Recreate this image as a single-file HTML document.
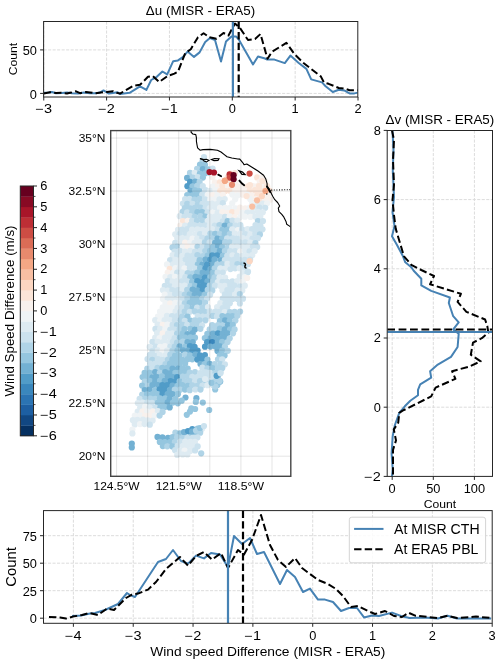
<!DOCTYPE html>
<html><head><meta charset="utf-8"><style>
html,body{margin:0;padding:0;background:#fff;width:500px;height:664px;overflow:hidden}
svg{display:block;will-change:transform}
text{font-family:"Liberation Sans",sans-serif}
</style></head><body>
<svg width="500" height="664" viewBox="0 0 500 664">
<rect width="500" height="664" fill="#fff"/>
<g id="top">
<line x1="43.75" y1="21.50" x2="43.75" y2="97.00" stroke="#dcdcdc" stroke-width="1" stroke-dasharray="3.1 1.4"/>
<line x1="106.60" y1="21.50" x2="106.60" y2="97.00" stroke="#dcdcdc" stroke-width="1" stroke-dasharray="3.1 1.4"/>
<line x1="169.45" y1="21.50" x2="169.45" y2="97.00" stroke="#dcdcdc" stroke-width="1" stroke-dasharray="3.1 1.4"/>
<line x1="232.30" y1="21.50" x2="232.30" y2="97.00" stroke="#dcdcdc" stroke-width="1" stroke-dasharray="3.1 1.4"/>
<line x1="295.15" y1="21.50" x2="295.15" y2="97.00" stroke="#dcdcdc" stroke-width="1" stroke-dasharray="3.1 1.4"/>
<line x1="43.60" y1="93.40" x2="357.80" y2="93.40" stroke="#dcdcdc" stroke-width="1" stroke-dasharray="3.1 1.4"/>
<line x1="43.60" y1="49.90" x2="357.80" y2="49.90" stroke="#dcdcdc" stroke-width="1" stroke-dasharray="3.1 1.4"/>
<clipPath id="ctop"><rect x="43.6" y="21.5" width="314.2" height="75.5"/></clipPath>
<g clip-path="url(#ctop)">
<polyline points="43.7,92.8 49.0,92.6 52.0,92.0 56.0,93.3 62.0,93.1 67.0,92.4 72.0,93.3 78.0,93.6 84.0,92.6 90.0,93.2 96.0,93.3 100.0,92.5 103.5,90.4 108.8,93.6 113.0,93.0 117.6,92.3 120.0,93.9 129.6,92.8 140.0,86.4 146.4,89.9 151.2,80.0 156.8,76.8 162.4,71.5 167.2,74.4 173.2,61.2 178.0,60.4 182.8,57.2 187.6,51.6 194.0,56.9 199.6,52.4 205.2,42.0 210.0,38.0 215.0,40.0 221.0,61.5 226.0,41.5 231.5,36.5 236.0,36.5 238.5,39.0 253.0,64.5 258.0,56.5 265.0,58.5 267.2,59.6 274.4,59.6 284.8,63.1 290.4,55.6 298.4,62.8 306.4,68.9 311.2,79.4 322.0,82.4 325.6,86.2 332.8,92.0 338.8,89.8 344.2,90.4 349.6,93.4 354.4,93.4 357.8,92.6" fill="none" stroke="#4682b4" stroke-width="2" stroke-linejoin="round"/>
<polyline points="43.7,93.4 50.0,92.2 56.0,93.0 61.0,92.8 67.0,93.4 71.0,92.6 76.0,91.3 80.0,93.2 86.0,92.0 90.0,92.4 95.0,93.3 101.0,92.5 107.0,92.0 113.0,91.2 117.0,92.8 120.0,93.6 133.6,85.6 140.0,84.8 148.0,76.8 152.8,76.0 159.2,82.0 167.2,76.3 174.4,73.6 178.0,71.6 185.2,53.2 190.8,49.2 198.0,37.2 203.6,33.2 209.2,37.2 216.4,38.8 223.5,33.0 228.5,35.5 232.5,28.0 235.0,23.5 240.0,28.0 248.0,40.0 255.0,39.0 260.5,34.0 267.5,58.8 272.0,51.8 286.4,42.8 294.4,54.0 303.2,62.8 320.8,76.4 324.0,82.5 328.6,83.8 338.8,88.0 344.8,88.6 349.6,90.2 357.8,90.2" fill="none" stroke="#000" stroke-width="2" stroke-dasharray="7.4 3.2" stroke-linejoin="round"/>
<line x1="232.90" y1="21.50" x2="232.90" y2="97.00" stroke="#4682b4" stroke-width="2.2"/>
<line x1="238.70" y1="21.50" x2="238.70" y2="97.00" stroke="#000" stroke-width="2.2" stroke-dasharray="7.4 3.2"/>
</g>
<rect x="43.6" y="21.5" width="314.2" height="75.5" fill="none" stroke="#262626" stroke-width="1"/>
<line x1="43.75" y1="97.00" x2="43.75" y2="100.50" stroke="#262626" stroke-width="1"/>
<text x="35.49" y="113.26" font-size="11.87" textLength="16.51" lengthAdjust="spacingAndGlyphs" fill="#000">−3</text>
<line x1="106.60" y1="97.00" x2="106.60" y2="100.50" stroke="#262626" stroke-width="1"/>
<text x="98.34" y="113.26" font-size="11.87" textLength="16.51" lengthAdjust="spacingAndGlyphs" fill="#000">−2</text>
<line x1="169.45" y1="97.00" x2="169.45" y2="100.50" stroke="#262626" stroke-width="1"/>
<text x="161.19" y="113.26" font-size="11.87" textLength="16.51" lengthAdjust="spacingAndGlyphs" fill="#000">−1</text>
<line x1="232.30" y1="97.00" x2="232.30" y2="100.50" stroke="#262626" stroke-width="1"/>
<text x="228.74" y="113.26" font-size="11.87" textLength="7.13" lengthAdjust="spacingAndGlyphs" fill="#000">0</text>
<line x1="295.15" y1="97.00" x2="295.15" y2="100.50" stroke="#262626" stroke-width="1"/>
<text x="291.59" y="113.26" font-size="11.87" textLength="7.13" lengthAdjust="spacingAndGlyphs" fill="#000">1</text>
<line x1="358.00" y1="97.00" x2="358.00" y2="100.50" stroke="#262626" stroke-width="1"/>
<text x="354.44" y="113.26" font-size="11.87" textLength="7.13" lengthAdjust="spacingAndGlyphs" fill="#000">2</text>
<line x1="40.10" y1="93.40" x2="43.60" y2="93.40" stroke="#262626" stroke-width="1"/>
<text x="29.87" y="98.68" font-size="11.87" textLength="7.13" lengthAdjust="spacingAndGlyphs" fill="#000">0</text>
<line x1="40.10" y1="49.90" x2="43.60" y2="49.90" stroke="#262626" stroke-width="1"/>
<text x="22.75" y="55.18" font-size="11.87" textLength="14.25" lengthAdjust="spacingAndGlyphs" fill="#000">50</text>
<text x="145.85" y="15.00" font-size="13.62" textLength="109.31" lengthAdjust="spacingAndGlyphs" fill="#000">Δu (MISR - ERA5)</text>
<text x="0.31" y="59.00" font-size="11.55" textLength="32.37" lengthAdjust="spacingAndGlyphs" fill="#000" transform="rotate(-90 16.50 59.00)">Count</text>
</g>
<g id="right">
<line x1="392.20" y1="130.50" x2="392.20" y2="476.40" stroke="#dcdcdc" stroke-width="1" stroke-dasharray="3.1 1.4"/>
<line x1="433.30" y1="130.50" x2="433.30" y2="476.40" stroke="#dcdcdc" stroke-width="1" stroke-dasharray="3.1 1.4"/>
<line x1="474.40" y1="130.50" x2="474.40" y2="476.40" stroke="#dcdcdc" stroke-width="1" stroke-dasharray="3.1 1.4"/>
<line x1="387.20" y1="407.20" x2="492.50" y2="407.20" stroke="#dcdcdc" stroke-width="1" stroke-dasharray="3.1 1.4"/>
<line x1="387.20" y1="338.00" x2="492.50" y2="338.00" stroke="#dcdcdc" stroke-width="1" stroke-dasharray="3.1 1.4"/>
<line x1="387.20" y1="268.80" x2="492.50" y2="268.80" stroke="#dcdcdc" stroke-width="1" stroke-dasharray="3.1 1.4"/>
<line x1="387.20" y1="199.60" x2="492.50" y2="199.60" stroke="#dcdcdc" stroke-width="1" stroke-dasharray="3.1 1.4"/>
<clipPath id="cright"><rect x="387.2" y="130.5" width="105.30000000000001" height="345.9"/></clipPath>
<g clip-path="url(#cright)">
<polyline points="392.5,130.5 393.5,150.0 392.8,170.0 394.0,197.0 392.5,212.0 394.5,226.0 392.0,236.3 397.0,245.0 403.0,256.3 405.3,262.3 411.3,267.2 413.7,270.8 421.3,278.8 421.3,285.4 431.2,290.9 449.9,297.5 448.8,303.0 453.2,316.2 458.7,322.4 453.2,329.4 458.7,333.8 457.6,347.0 451.0,356.9 437.8,364.6 430.1,371.2 431.2,377.7 420.2,384.3 418.0,389.8 418.0,395.3 410.3,400.8 404.8,406.3 399.3,412.9 394.9,425.0 392.7,436.0 391.6,453.6 392.7,469.0 392.0,476.4" fill="none" stroke="#4682b4" stroke-width="2" stroke-linejoin="round"/>
<polyline points="392.0,130.5 394.0,140.0 393.0,160.0 394.0,185.0 392.5,200.0 394.0,215.0 395.7,228.6 399.3,240.7 404.0,256.3 411.3,264.8 421.3,270.0 434.0,276.0 430.1,284.3 460.9,293.8 457.6,301.9 466.4,311.8 485.1,319.5 487.3,326.1 488.4,332.7 481.8,338.2 473.0,342.6 470.8,354.7 480.7,361.3 468.6,366.8 452.1,371.2 455.4,378.8 435.6,387.6 431.2,396.4 402.6,410.7 399.3,412.9 398.2,422.8 393.8,429.4 396.0,440.4 393.0,450.0 393.0,476.4" fill="none" stroke="#000" stroke-width="2" stroke-dasharray="7.4 3.2" stroke-linejoin="round"/>
<line x1="387.20" y1="332.00" x2="492.50" y2="332.00" stroke="#4682b4" stroke-width="2.2"/>
<line x1="387.20" y1="329.50" x2="492.50" y2="329.50" stroke="#000" stroke-width="2.2" stroke-dasharray="7.8 3.6"/>
</g>
<rect x="387.2" y="130.5" width="105.30000000000001" height="345.9" fill="none" stroke="#262626" stroke-width="1"/>
<line x1="392.20" y1="476.40" x2="392.20" y2="479.90" stroke="#262626" stroke-width="1"/>
<text x="388.64" y="492.66" font-size="11.87" textLength="7.13" lengthAdjust="spacingAndGlyphs" fill="#000">0</text>
<line x1="433.30" y1="476.40" x2="433.30" y2="479.90" stroke="#262626" stroke-width="1"/>
<text x="426.17" y="492.66" font-size="11.87" textLength="14.25" lengthAdjust="spacingAndGlyphs" fill="#000">50</text>
<line x1="474.40" y1="476.40" x2="474.40" y2="479.90" stroke="#262626" stroke-width="1"/>
<text x="463.71" y="492.66" font-size="11.87" textLength="21.38" lengthAdjust="spacingAndGlyphs" fill="#000">100</text>
<line x1="383.70" y1="476.40" x2="387.20" y2="476.40" stroke="#262626" stroke-width="1"/>
<text x="364.29" y="480.78" font-size="11.87" textLength="16.51" lengthAdjust="spacingAndGlyphs" fill="#000">−2</text>
<line x1="383.70" y1="407.20" x2="387.20" y2="407.20" stroke="#262626" stroke-width="1"/>
<text x="373.67" y="411.58" font-size="11.87" textLength="7.13" lengthAdjust="spacingAndGlyphs" fill="#000">0</text>
<line x1="383.70" y1="338.00" x2="387.20" y2="338.00" stroke="#262626" stroke-width="1"/>
<text x="373.67" y="342.38" font-size="11.87" textLength="7.13" lengthAdjust="spacingAndGlyphs" fill="#000">2</text>
<line x1="383.70" y1="268.80" x2="387.20" y2="268.80" stroke="#262626" stroke-width="1"/>
<text x="373.67" y="273.18" font-size="11.87" textLength="7.13" lengthAdjust="spacingAndGlyphs" fill="#000">4</text>
<line x1="383.70" y1="199.60" x2="387.20" y2="199.60" stroke="#262626" stroke-width="1"/>
<text x="373.67" y="203.98" font-size="11.87" textLength="7.13" lengthAdjust="spacingAndGlyphs" fill="#000">6</text>
<line x1="383.70" y1="130.40" x2="387.20" y2="130.40" stroke="#262626" stroke-width="1"/>
<text x="373.67" y="134.78" font-size="11.87" textLength="7.13" lengthAdjust="spacingAndGlyphs" fill="#000">8</text>
<text x="385.52" y="124.00" font-size="13.62" textLength="108.77" lengthAdjust="spacingAndGlyphs" fill="#000">Δv (MISR - ERA5)</text>
<text x="423.71" y="507.60" font-size="11.55" textLength="32.37" lengthAdjust="spacingAndGlyphs" fill="#000">Count</text>
</g>
<g id="bottom">
<line x1="73.39" y1="510.60" x2="73.39" y2="623.30" stroke="#dcdcdc" stroke-width="1" stroke-dasharray="3.1 1.4"/>
<line x1="133.22" y1="510.60" x2="133.22" y2="623.30" stroke="#dcdcdc" stroke-width="1" stroke-dasharray="3.1 1.4"/>
<line x1="193.05" y1="510.60" x2="193.05" y2="623.30" stroke="#dcdcdc" stroke-width="1" stroke-dasharray="3.1 1.4"/>
<line x1="252.88" y1="510.60" x2="252.88" y2="623.30" stroke="#dcdcdc" stroke-width="1" stroke-dasharray="3.1 1.4"/>
<line x1="312.71" y1="510.60" x2="312.71" y2="623.30" stroke="#dcdcdc" stroke-width="1" stroke-dasharray="3.1 1.4"/>
<line x1="372.54" y1="510.60" x2="372.54" y2="623.30" stroke="#dcdcdc" stroke-width="1" stroke-dasharray="3.1 1.4"/>
<line x1="432.37" y1="510.60" x2="432.37" y2="623.30" stroke="#dcdcdc" stroke-width="1" stroke-dasharray="3.1 1.4"/>
<line x1="43.50" y1="618.20" x2="492.20" y2="618.20" stroke="#dcdcdc" stroke-width="1" stroke-dasharray="3.1 1.4"/>
<line x1="43.50" y1="590.70" x2="492.20" y2="590.70" stroke="#dcdcdc" stroke-width="1" stroke-dasharray="3.1 1.4"/>
<line x1="43.50" y1="563.20" x2="492.20" y2="563.20" stroke="#dcdcdc" stroke-width="1" stroke-dasharray="3.1 1.4"/>
<line x1="43.50" y1="535.70" x2="492.20" y2="535.70" stroke="#dcdcdc" stroke-width="1" stroke-dasharray="3.1 1.4"/>
<clipPath id="cbot"><rect x="43.5" y="510.6" width="448.7" height="112.69999999999993"/></clipPath>
<g clip-path="url(#cbot)">
<polyline points="72.0,616.0 81.0,615.4 90.0,613.4 95.0,613.0 105.0,610.0 118.0,604.0 127.0,593.0 130.0,595.0 135.0,597.0 158.0,562.0 166.0,559.0 173.0,550.0 181.0,561.0 188.0,563.6 196.0,555.6 204.0,558.4 211.0,553.0 220.0,554.5 228.0,567.0 234.0,536.0 242.0,544.0 250.0,538.0 257.0,554.0 264.0,552.0 280.0,584.0 287.0,570.0 295.0,577.0 303.0,592.0 310.0,588.6 318.0,599.6 325.0,599.6 333.0,602.0 341.0,611.0 349.0,608.0 357.0,608.0 364.0,617.4 372.0,615.6 379.0,616.0 392.0,612.6 401.0,616.0 409.5,618.0 424.7,617.6 438.0,618.5 447.5,615.7 457.0,618.5 491.0,618.5" fill="none" stroke="#4682b4" stroke-width="2" stroke-linejoin="round"/>
<polyline points="49.0,617.0 60.0,617.4 66.0,618.6 73.0,616.6 82.0,615.0 89.0,613.0 98.0,615.0 107.0,608.6 114.0,610.0 126.0,598.0 132.0,594.6 138.0,593.6 148.0,589.6 156.0,582.0 166.0,569.0 180.0,557.0 188.0,565.6 196.0,556.0 204.0,552.0 212.0,559.6 221.0,553.0 228.0,568.0 238.0,550.0 244.0,554.6 252.0,540.0 261.0,515.0 270.0,545.0 278.0,560.0 286.0,567.0 295.0,558.0 302.0,568.0 318.0,580.0 328.0,584.0 336.0,589.0 343.0,596.0 351.0,607.0 358.0,606.0 368.0,611.0 375.0,614.0 385.0,611.0 394.0,616.0 402.0,617.0 408.6,612.8 415.2,615.7 438.0,618.0 447.5,615.7 457.0,618.0 476.0,616.6 491.0,618.0" fill="none" stroke="#000" stroke-width="2" stroke-dasharray="7.4 3.2" stroke-linejoin="round"/>
<line x1="228.00" y1="510.60" x2="228.00" y2="623.30" stroke="#4682b4" stroke-width="2.2"/>
<line x1="243.00" y1="510.60" x2="243.00" y2="623.30" stroke="#000" stroke-width="2.2" stroke-dasharray="7.4 3.2"/>
</g>
<rect x="43.5" y="510.6" width="448.7" height="112.69999999999993" fill="none" stroke="#262626" stroke-width="1"/>
<line x1="73.39" y1="623.30" x2="73.39" y2="626.80" stroke="#262626" stroke-width="1"/>
<text x="65.13" y="639.56" font-size="11.87" textLength="16.51" lengthAdjust="spacingAndGlyphs" fill="#000">−4</text>
<line x1="133.22" y1="623.30" x2="133.22" y2="626.80" stroke="#262626" stroke-width="1"/>
<text x="124.96" y="639.56" font-size="11.87" textLength="16.51" lengthAdjust="spacingAndGlyphs" fill="#000">−3</text>
<line x1="193.05" y1="623.30" x2="193.05" y2="626.80" stroke="#262626" stroke-width="1"/>
<text x="184.79" y="639.56" font-size="11.87" textLength="16.51" lengthAdjust="spacingAndGlyphs" fill="#000">−2</text>
<line x1="252.88" y1="623.30" x2="252.88" y2="626.80" stroke="#262626" stroke-width="1"/>
<text x="244.62" y="639.56" font-size="11.87" textLength="16.51" lengthAdjust="spacingAndGlyphs" fill="#000">−1</text>
<line x1="312.71" y1="623.30" x2="312.71" y2="626.80" stroke="#262626" stroke-width="1"/>
<text x="309.15" y="639.56" font-size="11.87" textLength="7.13" lengthAdjust="spacingAndGlyphs" fill="#000">0</text>
<line x1="372.54" y1="623.30" x2="372.54" y2="626.80" stroke="#262626" stroke-width="1"/>
<text x="368.98" y="639.56" font-size="11.87" textLength="7.13" lengthAdjust="spacingAndGlyphs" fill="#000">1</text>
<line x1="432.37" y1="623.30" x2="432.37" y2="626.80" stroke="#262626" stroke-width="1"/>
<text x="428.81" y="639.56" font-size="11.87" textLength="7.13" lengthAdjust="spacingAndGlyphs" fill="#000">2</text>
<line x1="492.20" y1="623.30" x2="492.20" y2="626.80" stroke="#262626" stroke-width="1"/>
<text x="488.64" y="639.56" font-size="11.87" textLength="7.13" lengthAdjust="spacingAndGlyphs" fill="#000">3</text>
<line x1="40.00" y1="618.20" x2="43.50" y2="618.20" stroke="#262626" stroke-width="1"/>
<text x="29.77" y="623.48" font-size="11.87" textLength="7.13" lengthAdjust="spacingAndGlyphs" fill="#000">0</text>
<line x1="40.00" y1="590.70" x2="43.50" y2="590.70" stroke="#262626" stroke-width="1"/>
<text x="22.65" y="595.98" font-size="11.87" textLength="14.25" lengthAdjust="spacingAndGlyphs" fill="#000">25</text>
<line x1="40.00" y1="563.20" x2="43.50" y2="563.20" stroke="#262626" stroke-width="1"/>
<text x="22.65" y="568.48" font-size="11.87" textLength="14.25" lengthAdjust="spacingAndGlyphs" fill="#000">50</text>
<line x1="40.00" y1="535.70" x2="43.50" y2="535.70" stroke="#262626" stroke-width="1"/>
<text x="22.65" y="540.98" font-size="11.87" textLength="14.25" lengthAdjust="spacingAndGlyphs" fill="#000">75</text>
<text x="150.24" y="656.00" font-size="13.46" textLength="235.12" lengthAdjust="spacingAndGlyphs" fill="#000">Wind speed Difference (MISR - ERA5)</text>
<text x="-3.95" y="567.00" font-size="14.10" textLength="39.50" lengthAdjust="spacingAndGlyphs" fill="#000" transform="rotate(-90 15.80 567.00)">Count</text>
<rect x="349.3" y="517.2" width="136.3" height="45.6" rx="2.5" fill="#fff" fill-opacity="0.85" stroke="#d4d4d4" stroke-width="1"/>
<line x1="354.10" y1="528.90" x2="383.50" y2="528.90" stroke="#4682b4" stroke-width="2"/>
<line x1="354.10" y1="549.20" x2="383.50" y2="549.20" stroke="#000" stroke-width="2" stroke-dasharray="7.4 3.2"/>
<text x="394.10" y="533.80" font-size="14.52" textLength="85.53" lengthAdjust="spacingAndGlyphs" fill="#000">At MISR CTH</text>
<text x="394.10" y="553.80" font-size="14.52" textLength="84.21" lengthAdjust="spacingAndGlyphs" fill="#000">At ERA5 PBL</text>
</g>
<g id="cbar">
<rect x="20.3" y="425.39" width="13.2" height="10.71" fill="#053061"/>
<rect x="20.3" y="414.98" width="13.2" height="10.71" fill="#114782"/>
<rect x="20.3" y="404.57" width="13.2" height="10.71" fill="#1d5fa2"/>
<rect x="20.3" y="394.17" width="13.2" height="10.71" fill="#2b74b3"/>
<rect x="20.3" y="383.76" width="13.2" height="10.71" fill="#3a87bd"/>
<rect x="20.3" y="373.35" width="13.2" height="10.71" fill="#519cc8"/>
<rect x="20.3" y="362.94" width="13.2" height="10.71" fill="#73b1d3"/>
<rect x="20.3" y="352.53" width="13.2" height="10.71" fill="#95c6df"/>
<rect x="20.3" y="342.12" width="13.2" height="10.71" fill="#b0d4e7"/>
<rect x="20.3" y="331.72" width="13.2" height="10.71" fill="#cce2ee"/>
<rect x="20.3" y="321.31" width="13.2" height="10.71" fill="#deebf2"/>
<rect x="20.3" y="310.90" width="13.2" height="10.71" fill="#eff3f5"/>
<rect x="20.3" y="300.49" width="13.2" height="10.71" fill="#f8f1ed"/>
<rect x="20.3" y="290.08" width="13.2" height="10.71" fill="#fbe5d8"/>
<rect x="20.3" y="279.68" width="13.2" height="10.71" fill="#fcd6c1"/>
<rect x="20.3" y="269.27" width="13.2" height="10.71" fill="#f8bfa3"/>
<rect x="20.3" y="258.86" width="13.2" height="10.71" fill="#f4a785"/>
<rect x="20.3" y="248.45" width="13.2" height="10.71" fill="#e88a6d"/>
<rect x="20.3" y="238.04" width="13.2" height="10.71" fill="#db6c56"/>
<rect x="20.3" y="227.63" width="13.2" height="10.71" fill="#cd4d44"/>
<rect x="20.3" y="217.23" width="13.2" height="10.71" fill="#bd2e35"/>
<rect x="20.3" y="206.82" width="13.2" height="10.71" fill="#a81529"/>
<rect x="20.3" y="196.41" width="13.2" height="10.71" fill="#880a24"/>
<rect x="20.3" y="186.00" width="13.2" height="10.71" fill="#67001f"/>
<rect x="20.3" y="186.0" width="13.2" height="249.8" fill="none" stroke="#262626" stroke-width="1"/>
<line x1="33.50" y1="435.80" x2="37.00" y2="435.80" stroke="#262626" stroke-width="1"/>
<text x="40.30" y="439.88" font-size="11.87" textLength="16.51" lengthAdjust="spacingAndGlyphs" fill="#000">−6</text>
<line x1="33.50" y1="425.39" x2="35.50" y2="425.39" stroke="#262626" stroke-width="0.8"/>
<line x1="33.50" y1="414.98" x2="37.00" y2="414.98" stroke="#262626" stroke-width="1"/>
<text x="40.30" y="419.07" font-size="11.87" textLength="16.51" lengthAdjust="spacingAndGlyphs" fill="#000">−5</text>
<line x1="33.50" y1="404.57" x2="35.50" y2="404.57" stroke="#262626" stroke-width="0.8"/>
<line x1="33.50" y1="394.17" x2="37.00" y2="394.17" stroke="#262626" stroke-width="1"/>
<text x="40.30" y="398.25" font-size="11.87" textLength="16.51" lengthAdjust="spacingAndGlyphs" fill="#000">−4</text>
<line x1="33.50" y1="383.76" x2="35.50" y2="383.76" stroke="#262626" stroke-width="0.8"/>
<line x1="33.50" y1="373.35" x2="37.00" y2="373.35" stroke="#262626" stroke-width="1"/>
<text x="40.30" y="377.43" font-size="11.87" textLength="16.51" lengthAdjust="spacingAndGlyphs" fill="#000">−3</text>
<line x1="33.50" y1="362.94" x2="35.50" y2="362.94" stroke="#262626" stroke-width="0.8"/>
<line x1="33.50" y1="352.53" x2="37.00" y2="352.53" stroke="#262626" stroke-width="1"/>
<text x="40.30" y="356.62" font-size="11.87" textLength="16.51" lengthAdjust="spacingAndGlyphs" fill="#000">−2</text>
<line x1="33.50" y1="342.12" x2="35.50" y2="342.12" stroke="#262626" stroke-width="0.8"/>
<line x1="33.50" y1="331.72" x2="37.00" y2="331.72" stroke="#262626" stroke-width="1"/>
<text x="40.30" y="335.80" font-size="11.87" textLength="16.51" lengthAdjust="spacingAndGlyphs" fill="#000">−1</text>
<line x1="33.50" y1="321.31" x2="35.50" y2="321.31" stroke="#262626" stroke-width="0.8"/>
<line x1="33.50" y1="310.90" x2="37.00" y2="310.90" stroke="#262626" stroke-width="1"/>
<text x="40.30" y="314.98" font-size="11.87" textLength="7.13" lengthAdjust="spacingAndGlyphs" fill="#000">0</text>
<line x1="33.50" y1="300.49" x2="35.50" y2="300.49" stroke="#262626" stroke-width="0.8"/>
<line x1="33.50" y1="290.08" x2="37.00" y2="290.08" stroke="#262626" stroke-width="1"/>
<text x="40.30" y="294.17" font-size="11.87" textLength="7.13" lengthAdjust="spacingAndGlyphs" fill="#000">1</text>
<line x1="33.50" y1="279.68" x2="35.50" y2="279.68" stroke="#262626" stroke-width="0.8"/>
<line x1="33.50" y1="269.27" x2="37.00" y2="269.27" stroke="#262626" stroke-width="1"/>
<text x="40.30" y="273.35" font-size="11.87" textLength="7.13" lengthAdjust="spacingAndGlyphs" fill="#000">2</text>
<line x1="33.50" y1="258.86" x2="35.50" y2="258.86" stroke="#262626" stroke-width="0.8"/>
<line x1="33.50" y1="248.45" x2="37.00" y2="248.45" stroke="#262626" stroke-width="1"/>
<text x="40.30" y="252.53" font-size="11.87" textLength="7.13" lengthAdjust="spacingAndGlyphs" fill="#000">3</text>
<line x1="33.50" y1="238.04" x2="35.50" y2="238.04" stroke="#262626" stroke-width="0.8"/>
<line x1="33.50" y1="227.63" x2="37.00" y2="227.63" stroke="#262626" stroke-width="1"/>
<text x="40.30" y="231.72" font-size="11.87" textLength="7.13" lengthAdjust="spacingAndGlyphs" fill="#000">4</text>
<line x1="33.50" y1="217.23" x2="35.50" y2="217.23" stroke="#262626" stroke-width="0.8"/>
<line x1="33.50" y1="206.82" x2="37.00" y2="206.82" stroke="#262626" stroke-width="1"/>
<text x="40.30" y="210.90" font-size="11.87" textLength="7.13" lengthAdjust="spacingAndGlyphs" fill="#000">5</text>
<line x1="33.50" y1="196.41" x2="35.50" y2="196.41" stroke="#262626" stroke-width="0.8"/>
<line x1="33.50" y1="186.00" x2="37.00" y2="186.00" stroke="#262626" stroke-width="1"/>
<text x="40.30" y="190.08" font-size="11.87" textLength="7.13" lengthAdjust="spacingAndGlyphs" fill="#000">6</text>
<text x="-71.20" y="311.00" font-size="12.61" textLength="170.99" lengthAdjust="spacingAndGlyphs" fill="#000" transform="rotate(-90 14.30 311.00)">Wind Speed Difference (m/s)</text>
</g>
<g id="map">
<clipPath id="cmap"><rect x="110.7" y="130.6" width="180.10000000000002" height="345.70000000000005"/></clipPath>
<g clip-path="url(#cmap)">
<circle cx="202.6" cy="160.7" r="3.1" fill="#b0d4e7"/>
<circle cx="200.0" cy="164.7" r="3.1" fill="#95c6df"/>
<circle cx="205.0" cy="164.8" r="3.1" fill="#95c6df"/>
<circle cx="197.1" cy="168.8" r="3.1" fill="#b0d4e7"/>
<circle cx="202.8" cy="169.2" r="3.1" fill="#73b1d3"/>
<circle cx="208.0" cy="169.4" r="3.1" fill="#95c6df"/>
<circle cx="212.6" cy="168.6" r="3.1" fill="#cce2ee"/>
<circle cx="190.0" cy="172.9" r="3.1" fill="#b0d4e7"/>
<circle cx="194.7" cy="172.8" r="3.1" fill="#deebf2"/>
<circle cx="199.9" cy="173.6" r="3.1" fill="#95c6df"/>
<circle cx="205.1" cy="173.3" r="3.1" fill="#95c6df"/>
<circle cx="210.0" cy="173.1" r="3.1" fill="#b0d4e7"/>
<circle cx="230.5" cy="173.6" r="3.1" fill="#fbe5d8"/>
<circle cx="234.8" cy="173.0" r="3.1" fill="#fbe5d8"/>
<circle cx="187.1" cy="177.9" r="3.1" fill="#73b1d3"/>
<circle cx="192.8" cy="177.5" r="3.1" fill="#b0d4e7"/>
<circle cx="197.8" cy="177.1" r="3.1" fill="#cce2ee"/>
<circle cx="202.9" cy="177.6" r="3.1" fill="#95c6df"/>
<circle cx="212.4" cy="177.2" r="3.1" fill="#f8f1ed"/>
<circle cx="227.8" cy="177.4" r="3.1" fill="#fbe5d8"/>
<circle cx="232.3" cy="178.1" r="3.1" fill="#f8f1ed"/>
<circle cx="257.1" cy="177.4" r="3.1" fill="#fbe5d8"/>
<circle cx="262.1" cy="177.9" r="3.1" fill="#f8f1ed"/>
<circle cx="190.1" cy="181.9" r="3.1" fill="#519cc8"/>
<circle cx="195.2" cy="181.6" r="3.1" fill="#73b1d3"/>
<circle cx="199.6" cy="181.9" r="3.1" fill="#b0d4e7"/>
<circle cx="214.8" cy="182.4" r="3.1" fill="#f8f1ed"/>
<circle cx="219.8" cy="182.3" r="3.1" fill="#fbe5d8"/>
<circle cx="224.9" cy="182.3" r="3.1" fill="#f8f1ed"/>
<circle cx="229.6" cy="182.4" r="3.1" fill="#fbe5d8"/>
<circle cx="234.8" cy="182.2" r="3.1" fill="#f8f1ed"/>
<circle cx="259.8" cy="181.5" r="3.1" fill="#f8f1ed"/>
<circle cx="265.1" cy="181.7" r="3.1" fill="#f8f1ed"/>
<circle cx="187.4" cy="186.2" r="3.1" fill="#519cc8"/>
<circle cx="192.5" cy="186.4" r="3.1" fill="#95c6df"/>
<circle cx="197.2" cy="185.9" r="3.1" fill="#b0d4e7"/>
<circle cx="202.8" cy="186.0" r="3.1" fill="#cce2ee"/>
<circle cx="212.7" cy="186.7" r="3.1" fill="#eff3f5"/>
<circle cx="218.0" cy="186.7" r="3.1" fill="#f8f1ed"/>
<circle cx="222.4" cy="185.9" r="3.1" fill="#fbe5d8"/>
<circle cx="228.0" cy="186.0" r="3.1" fill="#f8f1ed"/>
<circle cx="232.3" cy="186.6" r="3.1" fill="#f8f1ed"/>
<circle cx="237.3" cy="186.0" r="3.1" fill="#f8f1ed"/>
<circle cx="242.1" cy="186.0" r="3.1" fill="#f8f1ed"/>
<circle cx="247.9" cy="186.4" r="3.1" fill="#fbe5d8"/>
<circle cx="252.9" cy="186.0" r="3.1" fill="#f8f1ed"/>
<circle cx="257.3" cy="186.2" r="3.1" fill="#f8f1ed"/>
<circle cx="262.2" cy="186.2" r="3.1" fill="#f8f1ed"/>
<circle cx="267.1" cy="186.2" r="3.1" fill="#fbe5d8"/>
<circle cx="190.5" cy="190.8" r="3.1" fill="#73b1d3"/>
<circle cx="195.1" cy="190.3" r="3.1" fill="#95c6df"/>
<circle cx="199.5" cy="191.0" r="3.1" fill="#95c6df"/>
<circle cx="205.5" cy="190.1" r="3.1" fill="#cce2ee"/>
<circle cx="210.0" cy="190.9" r="3.1" fill="#deebf2"/>
<circle cx="215.5" cy="190.2" r="3.1" fill="#eff3f5"/>
<circle cx="220.2" cy="191.0" r="3.1" fill="#fbe5d8"/>
<circle cx="225.2" cy="190.9" r="3.1" fill="#fbe5d8"/>
<circle cx="229.9" cy="190.8" r="3.1" fill="#fbe5d8"/>
<circle cx="235.4" cy="190.5" r="3.1" fill="#f8f1ed"/>
<circle cx="240.4" cy="190.7" r="3.1" fill="#f8f1ed"/>
<circle cx="244.9" cy="190.7" r="3.1" fill="#f8f1ed"/>
<circle cx="249.6" cy="190.8" r="3.1" fill="#fbe5d8"/>
<circle cx="255.4" cy="190.8" r="3.1" fill="#fbe5d8"/>
<circle cx="260.2" cy="190.7" r="3.1" fill="#fbe5d8"/>
<circle cx="265.3" cy="190.2" r="3.1" fill="#fbe5d8"/>
<circle cx="269.5" cy="190.7" r="3.1" fill="#fbe5d8"/>
<circle cx="187.2" cy="195.1" r="3.1" fill="#95c6df"/>
<circle cx="192.6" cy="195.4" r="3.1" fill="#95c6df"/>
<circle cx="197.0" cy="194.8" r="3.1" fill="#95c6df"/>
<circle cx="202.2" cy="194.6" r="3.1" fill="#cce2ee"/>
<circle cx="207.7" cy="194.9" r="3.1" fill="#eff3f5"/>
<circle cx="212.3" cy="195.1" r="3.1" fill="#f8f1ed"/>
<circle cx="217.4" cy="195.3" r="3.1" fill="#eff3f5"/>
<circle cx="222.9" cy="194.8" r="3.1" fill="#f8f1ed"/>
<circle cx="232.3" cy="194.6" r="3.1" fill="#eff3f5"/>
<circle cx="237.8" cy="195.3" r="3.1" fill="#eff3f5"/>
<circle cx="243.0" cy="194.7" r="3.1" fill="#f8f1ed"/>
<circle cx="247.5" cy="194.7" r="3.1" fill="#eff3f5"/>
<circle cx="252.4" cy="195.1" r="3.1" fill="#f8f1ed"/>
<circle cx="257.3" cy="195.3" r="3.1" fill="#fbe5d8"/>
<circle cx="262.5" cy="194.5" r="3.1" fill="#fbe5d8"/>
<circle cx="267.9" cy="194.5" r="3.1" fill="#f8f1ed"/>
<circle cx="185.1" cy="199.1" r="3.1" fill="#cce2ee"/>
<circle cx="189.5" cy="198.9" r="3.1" fill="#cce2ee"/>
<circle cx="194.5" cy="199.6" r="3.1" fill="#b0d4e7"/>
<circle cx="199.6" cy="198.8" r="3.1" fill="#b0d4e7"/>
<circle cx="204.9" cy="199.4" r="3.1" fill="#cce2ee"/>
<circle cx="210.3" cy="199.7" r="3.1" fill="#eff3f5"/>
<circle cx="214.7" cy="199.3" r="3.1" fill="#eff3f5"/>
<circle cx="219.5" cy="199.3" r="3.1" fill="#deebf2"/>
<circle cx="224.7" cy="199.1" r="3.1" fill="#deebf2"/>
<circle cx="235.2" cy="199.3" r="3.1" fill="#eff3f5"/>
<circle cx="250.3" cy="199.2" r="3.1" fill="#eff3f5"/>
<circle cx="255.4" cy="198.9" r="3.1" fill="#f8f1ed"/>
<circle cx="260.2" cy="198.9" r="3.1" fill="#fbe5d8"/>
<circle cx="265.1" cy="199.7" r="3.1" fill="#f8f1ed"/>
<circle cx="270.1" cy="199.7" r="3.1" fill="#f8f1ed"/>
<circle cx="182.9" cy="203.6" r="3.1" fill="#cce2ee"/>
<circle cx="187.2" cy="203.8" r="3.1" fill="#b0d4e7"/>
<circle cx="192.6" cy="203.8" r="3.1" fill="#cce2ee"/>
<circle cx="197.9" cy="204.1" r="3.1" fill="#b0d4e7"/>
<circle cx="202.5" cy="203.9" r="3.1" fill="#cce2ee"/>
<circle cx="207.9" cy="204.0" r="3.1" fill="#cce2ee"/>
<circle cx="212.1" cy="203.6" r="3.1" fill="#deebf2"/>
<circle cx="217.8" cy="203.6" r="3.1" fill="#deebf2"/>
<circle cx="222.8" cy="203.2" r="3.1" fill="#cce2ee"/>
<circle cx="232.2" cy="203.4" r="3.1" fill="#eff3f5"/>
<circle cx="252.1" cy="203.3" r="3.1" fill="#eff3f5"/>
<circle cx="257.7" cy="203.9" r="3.1" fill="#deebf2"/>
<circle cx="262.9" cy="203.6" r="3.1" fill="#deebf2"/>
<circle cx="267.1" cy="203.3" r="3.1" fill="#eff3f5"/>
<circle cx="184.8" cy="208.2" r="3.1" fill="#b0d4e7"/>
<circle cx="190.0" cy="208.3" r="3.1" fill="#b0d4e7"/>
<circle cx="194.8" cy="207.8" r="3.1" fill="#b0d4e7"/>
<circle cx="200.4" cy="207.6" r="3.1" fill="#b0d4e7"/>
<circle cx="205.5" cy="208.0" r="3.1" fill="#cce2ee"/>
<circle cx="209.7" cy="208.0" r="3.1" fill="#deebf2"/>
<circle cx="215.1" cy="207.5" r="3.1" fill="#deebf2"/>
<circle cx="220.0" cy="207.8" r="3.1" fill="#eff3f5"/>
<circle cx="225.1" cy="207.9" r="3.1" fill="#eff3f5"/>
<circle cx="229.6" cy="208.0" r="3.1" fill="#eff3f5"/>
<circle cx="235.5" cy="208.4" r="3.1" fill="#eff3f5"/>
<circle cx="240.0" cy="207.6" r="3.1" fill="#f8f1ed"/>
<circle cx="245.3" cy="208.3" r="3.1" fill="#f8f1ed"/>
<circle cx="249.8" cy="207.6" r="3.1" fill="#eff3f5"/>
<circle cx="255.4" cy="207.6" r="3.1" fill="#deebf2"/>
<circle cx="259.5" cy="207.6" r="3.1" fill="#cce2ee"/>
<circle cx="265.2" cy="207.8" r="3.1" fill="#cce2ee"/>
<circle cx="182.6" cy="211.9" r="3.1" fill="#b0d4e7"/>
<circle cx="187.1" cy="212.3" r="3.1" fill="#cce2ee"/>
<circle cx="192.2" cy="212.3" r="3.1" fill="#b0d4e7"/>
<circle cx="197.4" cy="212.2" r="3.1" fill="#95c6df"/>
<circle cx="202.2" cy="212.0" r="3.1" fill="#95c6df"/>
<circle cx="207.6" cy="212.3" r="3.1" fill="#cce2ee"/>
<circle cx="212.6" cy="212.6" r="3.1" fill="#eff3f5"/>
<circle cx="217.7" cy="212.6" r="3.1" fill="#deebf2"/>
<circle cx="222.3" cy="212.1" r="3.1" fill="#f8f1ed"/>
<circle cx="227.2" cy="212.8" r="3.1" fill="#f8f1ed"/>
<circle cx="232.1" cy="212.0" r="3.1" fill="#fbe5d8"/>
<circle cx="237.3" cy="211.9" r="3.1" fill="#f8f1ed"/>
<circle cx="242.4" cy="212.6" r="3.1" fill="#eff3f5"/>
<circle cx="247.4" cy="212.5" r="3.1" fill="#deebf2"/>
<circle cx="252.2" cy="212.5" r="3.1" fill="#deebf2"/>
<circle cx="258.0" cy="211.9" r="3.1" fill="#deebf2"/>
<circle cx="262.8" cy="212.3" r="3.1" fill="#deebf2"/>
<circle cx="179.7" cy="216.2" r="3.1" fill="#deebf2"/>
<circle cx="184.5" cy="216.7" r="3.1" fill="#cce2ee"/>
<circle cx="190.1" cy="216.2" r="3.1" fill="#cce2ee"/>
<circle cx="194.7" cy="216.9" r="3.1" fill="#b0d4e7"/>
<circle cx="200.4" cy="216.2" r="3.1" fill="#b0d4e7"/>
<circle cx="205.5" cy="216.6" r="3.1" fill="#95c6df"/>
<circle cx="209.8" cy="216.6" r="3.1" fill="#deebf2"/>
<circle cx="214.9" cy="216.7" r="3.1" fill="#deebf2"/>
<circle cx="220.2" cy="216.9" r="3.1" fill="#deebf2"/>
<circle cx="225.0" cy="216.8" r="3.1" fill="#cce2ee"/>
<circle cx="229.7" cy="216.3" r="3.1" fill="#eff3f5"/>
<circle cx="234.5" cy="217.0" r="3.1" fill="#f8f1ed"/>
<circle cx="240.2" cy="217.0" r="3.1" fill="#eff3f5"/>
<circle cx="244.9" cy="216.7" r="3.1" fill="#eff3f5"/>
<circle cx="250.5" cy="216.9" r="3.1" fill="#eff3f5"/>
<circle cx="255.4" cy="216.8" r="3.1" fill="#deebf2"/>
<circle cx="260.3" cy="216.5" r="3.1" fill="#deebf2"/>
<circle cx="182.9" cy="221.1" r="3.1" fill="#fbe5d8"/>
<circle cx="187.8" cy="220.8" r="3.1" fill="#f8f1ed"/>
<circle cx="192.1" cy="220.8" r="3.1" fill="#cce2ee"/>
<circle cx="197.0" cy="220.8" r="3.1" fill="#b0d4e7"/>
<circle cx="202.6" cy="220.7" r="3.1" fill="#b0d4e7"/>
<circle cx="207.7" cy="220.8" r="3.1" fill="#deebf2"/>
<circle cx="212.6" cy="221.0" r="3.1" fill="#deebf2"/>
<circle cx="218.0" cy="221.1" r="3.1" fill="#deebf2"/>
<circle cx="222.8" cy="221.4" r="3.1" fill="#cce2ee"/>
<circle cx="227.6" cy="221.2" r="3.1" fill="#95c6df"/>
<circle cx="232.4" cy="220.5" r="3.1" fill="#cce2ee"/>
<circle cx="237.4" cy="220.5" r="3.1" fill="#deebf2"/>
<circle cx="257.9" cy="221.0" r="3.1" fill="#b0d4e7"/>
<circle cx="263.0" cy="221.0" r="3.1" fill="#cce2ee"/>
<circle cx="180.1" cy="225.6" r="3.1" fill="#f8f1ed"/>
<circle cx="185.1" cy="225.5" r="3.1" fill="#deebf2"/>
<circle cx="190.4" cy="224.9" r="3.1" fill="#cce2ee"/>
<circle cx="194.7" cy="225.3" r="3.1" fill="#cce2ee"/>
<circle cx="199.6" cy="225.7" r="3.1" fill="#cce2ee"/>
<circle cx="205.0" cy="225.4" r="3.1" fill="#cce2ee"/>
<circle cx="209.8" cy="225.4" r="3.1" fill="#deebf2"/>
<circle cx="214.8" cy="225.5" r="3.1" fill="#cce2ee"/>
<circle cx="219.5" cy="225.0" r="3.1" fill="#b0d4e7"/>
<circle cx="224.7" cy="225.5" r="3.1" fill="#73b1d3"/>
<circle cx="230.4" cy="225.5" r="3.1" fill="#b0d4e7"/>
<circle cx="235.5" cy="225.7" r="3.1" fill="#cce2ee"/>
<circle cx="240.4" cy="225.2" r="3.1" fill="#cce2ee"/>
<circle cx="255.5" cy="225.0" r="3.1" fill="#cce2ee"/>
<circle cx="260.4" cy="225.5" r="3.1" fill="#cce2ee"/>
<circle cx="178.0" cy="229.9" r="3.1" fill="#deebf2"/>
<circle cx="182.1" cy="229.7" r="3.1" fill="#cce2ee"/>
<circle cx="187.2" cy="229.1" r="3.1" fill="#cce2ee"/>
<circle cx="192.1" cy="229.5" r="3.1" fill="#deebf2"/>
<circle cx="197.5" cy="229.4" r="3.1" fill="#deebf2"/>
<circle cx="202.4" cy="229.9" r="3.1" fill="#deebf2"/>
<circle cx="208.0" cy="230.0" r="3.1" fill="#deebf2"/>
<circle cx="212.2" cy="229.2" r="3.1" fill="#deebf2"/>
<circle cx="217.8" cy="229.7" r="3.1" fill="#cce2ee"/>
<circle cx="222.3" cy="229.8" r="3.1" fill="#95c6df"/>
<circle cx="227.6" cy="229.7" r="3.1" fill="#95c6df"/>
<circle cx="232.2" cy="229.3" r="3.1" fill="#deebf2"/>
<circle cx="237.9" cy="230.0" r="3.1" fill="#eff3f5"/>
<circle cx="242.1" cy="229.4" r="3.1" fill="#cce2ee"/>
<circle cx="247.6" cy="229.2" r="3.1" fill="#deebf2"/>
<circle cx="252.1" cy="229.2" r="3.1" fill="#cce2ee"/>
<circle cx="257.6" cy="229.7" r="3.1" fill="#cce2ee"/>
<circle cx="262.5" cy="229.3" r="3.1" fill="#cce2ee"/>
<circle cx="175.2" cy="234.3" r="3.1" fill="#deebf2"/>
<circle cx="179.6" cy="234.2" r="3.1" fill="#cce2ee"/>
<circle cx="185.3" cy="233.6" r="3.1" fill="#cce2ee"/>
<circle cx="189.8" cy="234.2" r="3.1" fill="#deebf2"/>
<circle cx="195.2" cy="234.4" r="3.1" fill="#deebf2"/>
<circle cx="200.0" cy="234.2" r="3.1" fill="#cce2ee"/>
<circle cx="204.9" cy="233.8" r="3.1" fill="#deebf2"/>
<circle cx="210.4" cy="233.5" r="3.1" fill="#b0d4e7"/>
<circle cx="215.1" cy="233.9" r="3.1" fill="#95c6df"/>
<circle cx="219.8" cy="234.2" r="3.1" fill="#b0d4e7"/>
<circle cx="224.7" cy="234.1" r="3.1" fill="#95c6df"/>
<circle cx="229.8" cy="234.1" r="3.1" fill="#b0d4e7"/>
<circle cx="234.8" cy="233.6" r="3.1" fill="#deebf2"/>
<circle cx="240.2" cy="233.8" r="3.1" fill="#deebf2"/>
<circle cx="245.2" cy="234.0" r="3.1" fill="#cce2ee"/>
<circle cx="250.4" cy="234.3" r="3.1" fill="#deebf2"/>
<circle cx="255.3" cy="233.7" r="3.1" fill="#cce2ee"/>
<circle cx="259.9" cy="234.4" r="3.1" fill="#b0d4e7"/>
<circle cx="177.2" cy="238.1" r="3.1" fill="#deebf2"/>
<circle cx="182.4" cy="238.1" r="3.1" fill="#deebf2"/>
<circle cx="187.2" cy="238.3" r="3.1" fill="#deebf2"/>
<circle cx="192.5" cy="238.6" r="3.1" fill="#eff3f5"/>
<circle cx="197.2" cy="238.5" r="3.1" fill="#deebf2"/>
<circle cx="202.3" cy="237.8" r="3.1" fill="#cce2ee"/>
<circle cx="207.5" cy="238.3" r="3.1" fill="#b0d4e7"/>
<circle cx="212.7" cy="238.6" r="3.1" fill="#b0d4e7"/>
<circle cx="217.5" cy="238.5" r="3.1" fill="#73b1d3"/>
<circle cx="222.1" cy="238.5" r="3.1" fill="#95c6df"/>
<circle cx="227.1" cy="238.4" r="3.1" fill="#cce2ee"/>
<circle cx="232.7" cy="238.4" r="3.1" fill="#cce2ee"/>
<circle cx="237.2" cy="238.5" r="3.1" fill="#cce2ee"/>
<circle cx="242.8" cy="238.1" r="3.1" fill="#deebf2"/>
<circle cx="248.0" cy="238.4" r="3.1" fill="#deebf2"/>
<circle cx="252.5" cy="238.5" r="3.1" fill="#cce2ee"/>
<circle cx="257.9" cy="238.2" r="3.1" fill="#cce2ee"/>
<circle cx="175.2" cy="242.9" r="3.1" fill="#cce2ee"/>
<circle cx="180.3" cy="243.0" r="3.1" fill="#deebf2"/>
<circle cx="185.1" cy="242.6" r="3.1" fill="#f8f1ed"/>
<circle cx="190.3" cy="242.5" r="3.1" fill="#eff3f5"/>
<circle cx="194.6" cy="242.8" r="3.1" fill="#deebf2"/>
<circle cx="199.9" cy="242.2" r="3.1" fill="#deebf2"/>
<circle cx="204.9" cy="242.4" r="3.1" fill="#b0d4e7"/>
<circle cx="209.6" cy="242.4" r="3.1" fill="#cce2ee"/>
<circle cx="215.1" cy="242.9" r="3.1" fill="#73b1d3"/>
<circle cx="219.6" cy="242.5" r="3.1" fill="#73b1d3"/>
<circle cx="225.4" cy="242.1" r="3.1" fill="#b0d4e7"/>
<circle cx="229.7" cy="242.3" r="3.1" fill="#b0d4e7"/>
<circle cx="235.2" cy="242.7" r="3.1" fill="#cce2ee"/>
<circle cx="239.7" cy="242.4" r="3.1" fill="#cce2ee"/>
<circle cx="245.3" cy="242.4" r="3.1" fill="#cce2ee"/>
<circle cx="250.3" cy="242.6" r="3.1" fill="#deebf2"/>
<circle cx="255.4" cy="243.0" r="3.1" fill="#b0d4e7"/>
<circle cx="172.5" cy="247.4" r="3.1" fill="#b0d4e7"/>
<circle cx="177.2" cy="246.5" r="3.1" fill="#b0d4e7"/>
<circle cx="182.8" cy="246.8" r="3.1" fill="#eff3f5"/>
<circle cx="187.5" cy="246.7" r="3.1" fill="#f8f1ed"/>
<circle cx="192.7" cy="246.6" r="3.1" fill="#eff3f5"/>
<circle cx="197.5" cy="246.8" r="3.1" fill="#b0d4e7"/>
<circle cx="202.7" cy="247.0" r="3.1" fill="#cce2ee"/>
<circle cx="207.2" cy="246.7" r="3.1" fill="#b0d4e7"/>
<circle cx="212.9" cy="246.9" r="3.1" fill="#95c6df"/>
<circle cx="218.0" cy="246.7" r="3.1" fill="#73b1d3"/>
<circle cx="222.2" cy="247.2" r="3.1" fill="#95c6df"/>
<circle cx="227.8" cy="247.3" r="3.1" fill="#b0d4e7"/>
<circle cx="232.1" cy="246.7" r="3.1" fill="#deebf2"/>
<circle cx="237.1" cy="246.9" r="3.1" fill="#deebf2"/>
<circle cx="243.0" cy="247.0" r="3.1" fill="#deebf2"/>
<circle cx="247.3" cy="247.2" r="3.1" fill="#deebf2"/>
<circle cx="252.9" cy="246.5" r="3.1" fill="#cce2ee"/>
<circle cx="257.2" cy="247.0" r="3.1" fill="#cce2ee"/>
<circle cx="174.7" cy="251.6" r="3.1" fill="#cce2ee"/>
<circle cx="179.8" cy="250.8" r="3.1" fill="#cce2ee"/>
<circle cx="185.0" cy="251.5" r="3.1" fill="#deebf2"/>
<circle cx="190.2" cy="250.8" r="3.1" fill="#deebf2"/>
<circle cx="195.0" cy="251.7" r="3.1" fill="#cce2ee"/>
<circle cx="200.2" cy="250.8" r="3.1" fill="#cce2ee"/>
<circle cx="205.2" cy="251.0" r="3.1" fill="#b0d4e7"/>
<circle cx="210.0" cy="250.8" r="3.1" fill="#95c6df"/>
<circle cx="215.3" cy="250.9" r="3.1" fill="#95c6df"/>
<circle cx="219.8" cy="251.1" r="3.1" fill="#73b1d3"/>
<circle cx="224.8" cy="251.1" r="3.1" fill="#b0d4e7"/>
<circle cx="230.2" cy="251.0" r="3.1" fill="#cce2ee"/>
<circle cx="235.2" cy="251.1" r="3.1" fill="#cce2ee"/>
<circle cx="240.1" cy="251.5" r="3.1" fill="#eff3f5"/>
<circle cx="245.3" cy="250.8" r="3.1" fill="#deebf2"/>
<circle cx="249.6" cy="251.4" r="3.1" fill="#cce2ee"/>
<circle cx="254.7" cy="251.1" r="3.1" fill="#deebf2"/>
<circle cx="172.6" cy="255.2" r="3.1" fill="#deebf2"/>
<circle cx="177.2" cy="255.2" r="3.1" fill="#cce2ee"/>
<circle cx="182.1" cy="256.0" r="3.1" fill="#deebf2"/>
<circle cx="187.5" cy="255.7" r="3.1" fill="#cce2ee"/>
<circle cx="192.8" cy="255.5" r="3.1" fill="#cce2ee"/>
<circle cx="197.4" cy="255.1" r="3.1" fill="#b0d4e7"/>
<circle cx="202.7" cy="256.1" r="3.1" fill="#b0d4e7"/>
<circle cx="207.7" cy="255.7" r="3.1" fill="#95c6df"/>
<circle cx="212.3" cy="255.4" r="3.1" fill="#519cc8"/>
<circle cx="217.1" cy="255.4" r="3.1" fill="#519cc8"/>
<circle cx="222.8" cy="255.9" r="3.1" fill="#95c6df"/>
<circle cx="227.2" cy="255.8" r="3.1" fill="#cce2ee"/>
<circle cx="232.5" cy="255.4" r="3.1" fill="#deebf2"/>
<circle cx="237.1" cy="255.8" r="3.1" fill="#cce2ee"/>
<circle cx="242.5" cy="255.8" r="3.1" fill="#deebf2"/>
<circle cx="247.2" cy="256.0" r="3.1" fill="#deebf2"/>
<circle cx="252.2" cy="255.2" r="3.1" fill="#deebf2"/>
<circle cx="170.1" cy="260.1" r="3.1" fill="#cce2ee"/>
<circle cx="175.4" cy="259.8" r="3.1" fill="#deebf2"/>
<circle cx="179.6" cy="260.4" r="3.1" fill="#deebf2"/>
<circle cx="185.4" cy="259.9" r="3.1" fill="#cce2ee"/>
<circle cx="190.1" cy="259.7" r="3.1" fill="#cce2ee"/>
<circle cx="195.5" cy="260.2" r="3.1" fill="#cce2ee"/>
<circle cx="199.6" cy="260.2" r="3.1" fill="#95c6df"/>
<circle cx="205.4" cy="259.6" r="3.1" fill="#73b1d3"/>
<circle cx="210.3" cy="259.6" r="3.1" fill="#519cc8"/>
<circle cx="214.6" cy="259.4" r="3.1" fill="#73b1d3"/>
<circle cx="220.5" cy="260.3" r="3.1" fill="#73b1d3"/>
<circle cx="224.8" cy="260.1" r="3.1" fill="#cce2ee"/>
<circle cx="229.9" cy="260.0" r="3.1" fill="#cce2ee"/>
<circle cx="234.5" cy="259.6" r="3.1" fill="#cce2ee"/>
<circle cx="239.6" cy="259.8" r="3.1" fill="#cce2ee"/>
<circle cx="244.7" cy="259.9" r="3.1" fill="#cce2ee"/>
<circle cx="250.1" cy="259.7" r="3.1" fill="#cce2ee"/>
<circle cx="167.0" cy="264.4" r="3.1" fill="#eff3f5"/>
<circle cx="173.0" cy="264.3" r="3.1" fill="#deebf2"/>
<circle cx="177.4" cy="264.4" r="3.1" fill="#deebf2"/>
<circle cx="182.8" cy="264.5" r="3.1" fill="#deebf2"/>
<circle cx="188.0" cy="264.6" r="3.1" fill="#cce2ee"/>
<circle cx="192.4" cy="264.2" r="3.1" fill="#cce2ee"/>
<circle cx="197.9" cy="264.3" r="3.1" fill="#95c6df"/>
<circle cx="202.4" cy="264.6" r="3.1" fill="#73b1d3"/>
<circle cx="207.1" cy="264.5" r="3.1" fill="#519cc8"/>
<circle cx="212.7" cy="264.3" r="3.1" fill="#73b1d3"/>
<circle cx="217.3" cy="264.3" r="3.1" fill="#b0d4e7"/>
<circle cx="222.1" cy="264.2" r="3.1" fill="#b0d4e7"/>
<circle cx="227.4" cy="263.8" r="3.1" fill="#deebf2"/>
<circle cx="232.5" cy="264.0" r="3.1" fill="#cce2ee"/>
<circle cx="237.4" cy="264.0" r="3.1" fill="#b0d4e7"/>
<circle cx="242.9" cy="264.7" r="3.1" fill="#b0d4e7"/>
<circle cx="247.9" cy="264.2" r="3.1" fill="#cce2ee"/>
<circle cx="169.7" cy="268.8" r="3.1" fill="#fbe5d8"/>
<circle cx="175.4" cy="268.2" r="3.1" fill="#eff3f5"/>
<circle cx="179.6" cy="268.6" r="3.1" fill="#deebf2"/>
<circle cx="184.5" cy="268.3" r="3.1" fill="#eff3f5"/>
<circle cx="189.8" cy="268.1" r="3.1" fill="#cce2ee"/>
<circle cx="195.3" cy="268.5" r="3.1" fill="#cce2ee"/>
<circle cx="200.1" cy="268.1" r="3.1" fill="#95c6df"/>
<circle cx="205.4" cy="268.4" r="3.1" fill="#519cc8"/>
<circle cx="210.4" cy="269.0" r="3.1" fill="#73b1d3"/>
<circle cx="214.7" cy="268.4" r="3.1" fill="#b0d4e7"/>
<circle cx="220.4" cy="268.3" r="3.1" fill="#deebf2"/>
<circle cx="224.9" cy="268.5" r="3.1" fill="#deebf2"/>
<circle cx="230.4" cy="269.1" r="3.1" fill="#cce2ee"/>
<circle cx="235.1" cy="268.3" r="3.1" fill="#cce2ee"/>
<circle cx="239.6" cy="268.2" r="3.1" fill="#deebf2"/>
<circle cx="244.8" cy="269.0" r="3.1" fill="#cce2ee"/>
<circle cx="167.7" cy="272.5" r="3.1" fill="#f8f1ed"/>
<circle cx="172.9" cy="272.8" r="3.1" fill="#eff3f5"/>
<circle cx="177.2" cy="272.7" r="3.1" fill="#cce2ee"/>
<circle cx="182.2" cy="272.6" r="3.1" fill="#deebf2"/>
<circle cx="187.7" cy="273.2" r="3.1" fill="#b0d4e7"/>
<circle cx="192.7" cy="273.3" r="3.1" fill="#b0d4e7"/>
<circle cx="197.2" cy="272.7" r="3.1" fill="#95c6df"/>
<circle cx="202.7" cy="272.7" r="3.1" fill="#73b1d3"/>
<circle cx="207.1" cy="273.4" r="3.1" fill="#73b1d3"/>
<circle cx="212.5" cy="272.9" r="3.1" fill="#95c6df"/>
<circle cx="217.6" cy="272.7" r="3.1" fill="#cce2ee"/>
<circle cx="222.8" cy="272.5" r="3.1" fill="#cce2ee"/>
<circle cx="242.8" cy="272.6" r="3.1" fill="#deebf2"/>
<circle cx="247.5" cy="272.6" r="3.1" fill="#cce2ee"/>
<circle cx="165.5" cy="276.8" r="3.1" fill="#eff3f5"/>
<circle cx="170.3" cy="277.1" r="3.1" fill="#deebf2"/>
<circle cx="175.0" cy="276.9" r="3.1" fill="#eff3f5"/>
<circle cx="180.1" cy="277.1" r="3.1" fill="#deebf2"/>
<circle cx="185.3" cy="277.2" r="3.1" fill="#cce2ee"/>
<circle cx="190.3" cy="277.4" r="3.1" fill="#95c6df"/>
<circle cx="195.5" cy="276.9" r="3.1" fill="#73b1d3"/>
<circle cx="199.7" cy="277.3" r="3.1" fill="#73b1d3"/>
<circle cx="204.9" cy="277.5" r="3.1" fill="#519cc8"/>
<circle cx="210.3" cy="277.0" r="3.1" fill="#95c6df"/>
<circle cx="214.7" cy="277.3" r="3.1" fill="#b0d4e7"/>
<circle cx="219.5" cy="277.3" r="3.1" fill="#deebf2"/>
<circle cx="225.1" cy="277.6" r="3.1" fill="#deebf2"/>
<circle cx="239.7" cy="276.7" r="3.1" fill="#deebf2"/>
<circle cx="244.9" cy="277.2" r="3.1" fill="#eff3f5"/>
<circle cx="167.8" cy="281.1" r="3.1" fill="#cce2ee"/>
<circle cx="172.6" cy="281.6" r="3.1" fill="#deebf2"/>
<circle cx="177.2" cy="281.2" r="3.1" fill="#deebf2"/>
<circle cx="182.0" cy="281.4" r="3.1" fill="#cce2ee"/>
<circle cx="187.5" cy="281.3" r="3.1" fill="#cce2ee"/>
<circle cx="192.1" cy="281.9" r="3.1" fill="#95c6df"/>
<circle cx="197.3" cy="281.2" r="3.1" fill="#519cc8"/>
<circle cx="202.8" cy="281.8" r="3.1" fill="#519cc8"/>
<circle cx="207.4" cy="281.4" r="3.1" fill="#73b1d3"/>
<circle cx="213.0" cy="281.1" r="3.1" fill="#b0d4e7"/>
<circle cx="217.8" cy="282.0" r="3.1" fill="#deebf2"/>
<circle cx="222.5" cy="281.8" r="3.1" fill="#cce2ee"/>
<circle cx="227.2" cy="281.9" r="3.1" fill="#cce2ee"/>
<circle cx="232.4" cy="281.3" r="3.1" fill="#cce2ee"/>
<circle cx="237.1" cy="281.1" r="3.1" fill="#deebf2"/>
<circle cx="242.8" cy="281.8" r="3.1" fill="#eff3f5"/>
<circle cx="164.8" cy="285.9" r="3.1" fill="#cce2ee"/>
<circle cx="170.0" cy="286.3" r="3.1" fill="#cce2ee"/>
<circle cx="174.8" cy="286.4" r="3.1" fill="#deebf2"/>
<circle cx="179.5" cy="285.8" r="3.1" fill="#deebf2"/>
<circle cx="184.6" cy="285.7" r="3.1" fill="#deebf2"/>
<circle cx="190.4" cy="286.0" r="3.1" fill="#b0d4e7"/>
<circle cx="195.0" cy="285.8" r="3.1" fill="#95c6df"/>
<circle cx="199.9" cy="286.2" r="3.1" fill="#519cc8"/>
<circle cx="204.8" cy="285.6" r="3.1" fill="#519cc8"/>
<circle cx="209.7" cy="285.6" r="3.1" fill="#b0d4e7"/>
<circle cx="215.0" cy="285.7" r="3.1" fill="#cce2ee"/>
<circle cx="220.5" cy="286.1" r="3.1" fill="#deebf2"/>
<circle cx="224.7" cy="285.8" r="3.1" fill="#deebf2"/>
<circle cx="230.2" cy="285.7" r="3.1" fill="#cce2ee"/>
<circle cx="234.5" cy="285.6" r="3.1" fill="#cce2ee"/>
<circle cx="239.9" cy="286.3" r="3.1" fill="#cce2ee"/>
<circle cx="244.8" cy="285.7" r="3.1" fill="#deebf2"/>
<circle cx="162.9" cy="290.1" r="3.1" fill="#deebf2"/>
<circle cx="167.7" cy="290.6" r="3.1" fill="#deebf2"/>
<circle cx="172.3" cy="290.1" r="3.1" fill="#cce2ee"/>
<circle cx="177.9" cy="290.0" r="3.1" fill="#cce2ee"/>
<circle cx="182.5" cy="289.8" r="3.1" fill="#deebf2"/>
<circle cx="187.2" cy="289.8" r="3.1" fill="#b0d4e7"/>
<circle cx="192.6" cy="289.7" r="3.1" fill="#73b1d3"/>
<circle cx="197.4" cy="290.3" r="3.1" fill="#73b1d3"/>
<circle cx="202.7" cy="290.0" r="3.1" fill="#519cc8"/>
<circle cx="207.7" cy="289.9" r="3.1" fill="#b0d4e7"/>
<circle cx="212.3" cy="290.4" r="3.1" fill="#b0d4e7"/>
<circle cx="222.4" cy="290.6" r="3.1" fill="#deebf2"/>
<circle cx="227.3" cy="290.1" r="3.1" fill="#cce2ee"/>
<circle cx="232.0" cy="289.7" r="3.1" fill="#cce2ee"/>
<circle cx="237.6" cy="290.5" r="3.1" fill="#deebf2"/>
<circle cx="242.3" cy="290.4" r="3.1" fill="#deebf2"/>
<circle cx="164.7" cy="294.7" r="3.1" fill="#eff3f5"/>
<circle cx="170.5" cy="294.9" r="3.1" fill="#deebf2"/>
<circle cx="175.1" cy="294.1" r="3.1" fill="#cce2ee"/>
<circle cx="179.9" cy="294.1" r="3.1" fill="#cce2ee"/>
<circle cx="184.8" cy="294.5" r="3.1" fill="#b0d4e7"/>
<circle cx="189.7" cy="294.4" r="3.1" fill="#95c6df"/>
<circle cx="194.7" cy="294.7" r="3.1" fill="#73b1d3"/>
<circle cx="199.6" cy="294.4" r="3.1" fill="#73b1d3"/>
<circle cx="204.7" cy="294.6" r="3.1" fill="#95c6df"/>
<circle cx="210.1" cy="294.7" r="3.1" fill="#cce2ee"/>
<circle cx="224.9" cy="294.4" r="3.1" fill="#cce2ee"/>
<circle cx="229.9" cy="294.1" r="3.1" fill="#cce2ee"/>
<circle cx="235.1" cy="294.5" r="3.1" fill="#deebf2"/>
<circle cx="239.8" cy="294.1" r="3.1" fill="#b0d4e7"/>
<circle cx="162.9" cy="298.9" r="3.1" fill="#eff3f5"/>
<circle cx="167.7" cy="298.6" r="3.1" fill="#deebf2"/>
<circle cx="172.6" cy="299.3" r="3.1" fill="#deebf2"/>
<circle cx="177.6" cy="299.3" r="3.1" fill="#deebf2"/>
<circle cx="182.6" cy="299.0" r="3.1" fill="#cce2ee"/>
<circle cx="187.4" cy="298.6" r="3.1" fill="#b0d4e7"/>
<circle cx="192.9" cy="298.8" r="3.1" fill="#95c6df"/>
<circle cx="197.0" cy="298.5" r="3.1" fill="#95c6df"/>
<circle cx="202.3" cy="298.7" r="3.1" fill="#b0d4e7"/>
<circle cx="207.1" cy="298.6" r="3.1" fill="#cce2ee"/>
<circle cx="222.7" cy="298.6" r="3.1" fill="#cce2ee"/>
<circle cx="227.5" cy="298.8" r="3.1" fill="#cce2ee"/>
<circle cx="232.5" cy="299.0" r="3.1" fill="#cce2ee"/>
<circle cx="237.6" cy="298.9" r="3.1" fill="#cce2ee"/>
<circle cx="243.0" cy="298.7" r="3.1" fill="#cce2ee"/>
<circle cx="165.4" cy="303.0" r="3.1" fill="#eff3f5"/>
<circle cx="170.2" cy="303.4" r="3.1" fill="#f8f1ed"/>
<circle cx="175.3" cy="302.9" r="3.1" fill="#eff3f5"/>
<circle cx="180.0" cy="303.3" r="3.1" fill="#deebf2"/>
<circle cx="184.8" cy="303.4" r="3.1" fill="#b0d4e7"/>
<circle cx="189.7" cy="302.9" r="3.1" fill="#95c6df"/>
<circle cx="194.7" cy="303.2" r="3.1" fill="#95c6df"/>
<circle cx="199.6" cy="302.8" r="3.1" fill="#95c6df"/>
<circle cx="205.2" cy="302.8" r="3.1" fill="#b0d4e7"/>
<circle cx="220.3" cy="303.2" r="3.1" fill="#deebf2"/>
<circle cx="225.4" cy="303.6" r="3.1" fill="#cce2ee"/>
<circle cx="229.8" cy="303.2" r="3.1" fill="#cce2ee"/>
<circle cx="239.9" cy="303.4" r="3.1" fill="#cce2ee"/>
<circle cx="162.7" cy="307.4" r="3.1" fill="#eff3f5"/>
<circle cx="167.8" cy="307.9" r="3.1" fill="#eff3f5"/>
<circle cx="172.6" cy="307.5" r="3.1" fill="#eff3f5"/>
<circle cx="177.6" cy="307.9" r="3.1" fill="#deebf2"/>
<circle cx="182.1" cy="307.4" r="3.1" fill="#cce2ee"/>
<circle cx="187.2" cy="307.2" r="3.1" fill="#b0d4e7"/>
<circle cx="192.6" cy="308.0" r="3.1" fill="#95c6df"/>
<circle cx="197.1" cy="307.7" r="3.1" fill="#cce2ee"/>
<circle cx="202.6" cy="307.4" r="3.1" fill="#b0d4e7"/>
<circle cx="208.0" cy="307.1" r="3.1" fill="#deebf2"/>
<circle cx="217.1" cy="307.1" r="3.1" fill="#deebf2"/>
<circle cx="222.7" cy="308.0" r="3.1" fill="#cce2ee"/>
<circle cx="227.3" cy="307.1" r="3.1" fill="#cce2ee"/>
<circle cx="160.0" cy="311.7" r="3.1" fill="#eff3f5"/>
<circle cx="165.3" cy="312.2" r="3.1" fill="#eff3f5"/>
<circle cx="169.9" cy="312.0" r="3.1" fill="#eff3f5"/>
<circle cx="175.5" cy="311.7" r="3.1" fill="#deebf2"/>
<circle cx="180.0" cy="312.2" r="3.1" fill="#cce2ee"/>
<circle cx="184.7" cy="311.5" r="3.1" fill="#b0d4e7"/>
<circle cx="189.8" cy="311.8" r="3.1" fill="#cce2ee"/>
<circle cx="194.8" cy="311.4" r="3.1" fill="#b0d4e7"/>
<circle cx="199.6" cy="312.0" r="3.1" fill="#b0d4e7"/>
<circle cx="204.7" cy="311.8" r="3.1" fill="#b0d4e7"/>
<circle cx="209.8" cy="311.4" r="3.1" fill="#cce2ee"/>
<circle cx="215.4" cy="311.7" r="3.1" fill="#cce2ee"/>
<circle cx="219.7" cy="311.8" r="3.1" fill="#cce2ee"/>
<circle cx="224.7" cy="312.2" r="3.1" fill="#deebf2"/>
<circle cx="229.9" cy="312.2" r="3.1" fill="#b0d4e7"/>
<circle cx="234.6" cy="311.9" r="3.1" fill="#b0d4e7"/>
<circle cx="240.1" cy="311.6" r="3.1" fill="#b0d4e7"/>
<circle cx="157.9" cy="316.7" r="3.1" fill="#eff3f5"/>
<circle cx="162.8" cy="316.4" r="3.1" fill="#eff3f5"/>
<circle cx="167.0" cy="315.9" r="3.1" fill="#deebf2"/>
<circle cx="172.1" cy="316.0" r="3.1" fill="#cce2ee"/>
<circle cx="177.3" cy="316.2" r="3.1" fill="#cce2ee"/>
<circle cx="182.2" cy="316.6" r="3.1" fill="#b0d4e7"/>
<circle cx="187.5" cy="316.5" r="3.1" fill="#95c6df"/>
<circle cx="197.7" cy="316.1" r="3.1" fill="#cce2ee"/>
<circle cx="202.8" cy="316.5" r="3.1" fill="#cce2ee"/>
<circle cx="207.1" cy="316.6" r="3.1" fill="#cce2ee"/>
<circle cx="212.7" cy="315.9" r="3.1" fill="#b0d4e7"/>
<circle cx="217.0" cy="316.3" r="3.1" fill="#cce2ee"/>
<circle cx="222.4" cy="316.1" r="3.1" fill="#95c6df"/>
<circle cx="227.8" cy="316.1" r="3.1" fill="#95c6df"/>
<circle cx="232.4" cy="316.0" r="3.1" fill="#95c6df"/>
<circle cx="237.3" cy="315.8" r="3.1" fill="#b0d4e7"/>
<circle cx="155.2" cy="320.2" r="3.1" fill="#deebf2"/>
<circle cx="160.0" cy="320.7" r="3.1" fill="#eff3f5"/>
<circle cx="164.6" cy="320.2" r="3.1" fill="#deebf2"/>
<circle cx="169.9" cy="320.0" r="3.1" fill="#deebf2"/>
<circle cx="174.9" cy="320.3" r="3.1" fill="#cce2ee"/>
<circle cx="180.5" cy="320.2" r="3.1" fill="#b0d4e7"/>
<circle cx="184.8" cy="320.8" r="3.1" fill="#cce2ee"/>
<circle cx="190.5" cy="320.5" r="3.1" fill="#95c6df"/>
<circle cx="194.7" cy="320.4" r="3.1" fill="#b0d4e7"/>
<circle cx="199.7" cy="320.3" r="3.1" fill="#b0d4e7"/>
<circle cx="205.4" cy="320.3" r="3.1" fill="#b0d4e7"/>
<circle cx="219.9" cy="321.0" r="3.1" fill="#95c6df"/>
<circle cx="225.1" cy="320.4" r="3.1" fill="#73b1d3"/>
<circle cx="229.7" cy="320.6" r="3.1" fill="#95c6df"/>
<circle cx="235.4" cy="320.6" r="3.1" fill="#b0d4e7"/>
<circle cx="157.6" cy="324.5" r="3.1" fill="#deebf2"/>
<circle cx="162.7" cy="324.8" r="3.1" fill="#f8f1ed"/>
<circle cx="167.4" cy="324.7" r="3.1" fill="#eff3f5"/>
<circle cx="172.6" cy="324.9" r="3.1" fill="#cce2ee"/>
<circle cx="177.0" cy="325.0" r="3.1" fill="#b0d4e7"/>
<circle cx="182.6" cy="324.9" r="3.1" fill="#b0d4e7"/>
<circle cx="187.2" cy="324.8" r="3.1" fill="#cce2ee"/>
<circle cx="192.7" cy="324.7" r="3.1" fill="#b0d4e7"/>
<circle cx="198.0" cy="324.8" r="3.1" fill="#b0d4e7"/>
<circle cx="202.1" cy="325.3" r="3.1" fill="#cce2ee"/>
<circle cx="212.2" cy="325.2" r="3.1" fill="#b0d4e7"/>
<circle cx="217.9" cy="325.2" r="3.1" fill="#b0d4e7"/>
<circle cx="222.5" cy="325.3" r="3.1" fill="#b0d4e7"/>
<circle cx="227.9" cy="325.1" r="3.1" fill="#73b1d3"/>
<circle cx="232.8" cy="324.8" r="3.1" fill="#95c6df"/>
<circle cx="155.4" cy="328.9" r="3.1" fill="#cce2ee"/>
<circle cx="160.1" cy="328.8" r="3.1" fill="#deebf2"/>
<circle cx="165.3" cy="329.2" r="3.1" fill="#eff3f5"/>
<circle cx="170.3" cy="329.5" r="3.1" fill="#cce2ee"/>
<circle cx="175.0" cy="329.6" r="3.1" fill="#cce2ee"/>
<circle cx="179.7" cy="329.0" r="3.1" fill="#b0d4e7"/>
<circle cx="184.5" cy="329.0" r="3.1" fill="#95c6df"/>
<circle cx="190.3" cy="328.8" r="3.1" fill="#95c6df"/>
<circle cx="194.9" cy="329.5" r="3.1" fill="#73b1d3"/>
<circle cx="200.4" cy="328.8" r="3.1" fill="#b0d4e7"/>
<circle cx="209.7" cy="329.3" r="3.1" fill="#b0d4e7"/>
<circle cx="215.2" cy="328.9" r="3.1" fill="#b0d4e7"/>
<circle cx="219.9" cy="328.7" r="3.1" fill="#95c6df"/>
<circle cx="224.8" cy="329.3" r="3.1" fill="#73b1d3"/>
<circle cx="230.1" cy="329.4" r="3.1" fill="#95c6df"/>
<circle cx="234.6" cy="329.4" r="3.1" fill="#b0d4e7"/>
<circle cx="157.1" cy="333.1" r="3.1" fill="#deebf2"/>
<circle cx="162.6" cy="333.4" r="3.1" fill="#f8f1ed"/>
<circle cx="168.0" cy="333.7" r="3.1" fill="#deebf2"/>
<circle cx="172.4" cy="333.3" r="3.1" fill="#deebf2"/>
<circle cx="177.1" cy="333.6" r="3.1" fill="#b0d4e7"/>
<circle cx="182.8" cy="333.4" r="3.1" fill="#95c6df"/>
<circle cx="187.5" cy="334.0" r="3.1" fill="#73b1d3"/>
<circle cx="192.7" cy="333.2" r="3.1" fill="#73b1d3"/>
<circle cx="207.3" cy="333.9" r="3.1" fill="#95c6df"/>
<circle cx="212.9" cy="333.7" r="3.1" fill="#73b1d3"/>
<circle cx="217.9" cy="333.4" r="3.1" fill="#519cc8"/>
<circle cx="222.6" cy="333.5" r="3.1" fill="#73b1d3"/>
<circle cx="227.4" cy="333.3" r="3.1" fill="#73b1d3"/>
<circle cx="233.0" cy="333.3" r="3.1" fill="#b0d4e7"/>
<circle cx="155.2" cy="337.6" r="3.1" fill="#deebf2"/>
<circle cx="159.6" cy="338.2" r="3.1" fill="#eff3f5"/>
<circle cx="164.9" cy="337.7" r="3.1" fill="#deebf2"/>
<circle cx="170.4" cy="337.9" r="3.1" fill="#deebf2"/>
<circle cx="174.6" cy="338.2" r="3.1" fill="#cce2ee"/>
<circle cx="179.9" cy="337.7" r="3.1" fill="#95c6df"/>
<circle cx="185.2" cy="337.7" r="3.1" fill="#95c6df"/>
<circle cx="190.4" cy="337.4" r="3.1" fill="#95c6df"/>
<circle cx="195.0" cy="337.7" r="3.1" fill="#95c6df"/>
<circle cx="204.8" cy="338.0" r="3.1" fill="#95c6df"/>
<circle cx="210.5" cy="338.3" r="3.1" fill="#73b1d3"/>
<circle cx="214.9" cy="338.2" r="3.1" fill="#73b1d3"/>
<circle cx="220.2" cy="338.3" r="3.1" fill="#73b1d3"/>
<circle cx="225.0" cy="337.7" r="3.1" fill="#73b1d3"/>
<circle cx="229.7" cy="338.3" r="3.1" fill="#b0d4e7"/>
<circle cx="152.4" cy="341.8" r="3.1" fill="#cce2ee"/>
<circle cx="157.7" cy="341.8" r="3.1" fill="#deebf2"/>
<circle cx="162.6" cy="342.3" r="3.1" fill="#deebf2"/>
<circle cx="167.3" cy="342.5" r="3.1" fill="#deebf2"/>
<circle cx="172.8" cy="341.8" r="3.1" fill="#cce2ee"/>
<circle cx="177.0" cy="342.5" r="3.1" fill="#b0d4e7"/>
<circle cx="182.9" cy="341.7" r="3.1" fill="#b0d4e7"/>
<circle cx="187.5" cy="342.2" r="3.1" fill="#73b1d3"/>
<circle cx="192.8" cy="342.0" r="3.1" fill="#73b1d3"/>
<circle cx="207.1" cy="342.2" r="3.1" fill="#519cc8"/>
<circle cx="212.1" cy="342.2" r="3.1" fill="#3a87bd"/>
<circle cx="217.8" cy="341.9" r="3.1" fill="#73b1d3"/>
<circle cx="222.1" cy="341.9" r="3.1" fill="#95c6df"/>
<circle cx="227.6" cy="342.1" r="3.1" fill="#b0d4e7"/>
<circle cx="149.6" cy="346.9" r="3.1" fill="#deebf2"/>
<circle cx="155.5" cy="346.5" r="3.1" fill="#cce2ee"/>
<circle cx="160.1" cy="346.9" r="3.1" fill="#eff3f5"/>
<circle cx="164.9" cy="346.0" r="3.1" fill="#eff3f5"/>
<circle cx="170.3" cy="346.7" r="3.1" fill="#cce2ee"/>
<circle cx="174.7" cy="346.5" r="3.1" fill="#b0d4e7"/>
<circle cx="179.6" cy="346.3" r="3.1" fill="#73b1d3"/>
<circle cx="185.1" cy="346.8" r="3.1" fill="#95c6df"/>
<circle cx="189.9" cy="346.1" r="3.1" fill="#519cc8"/>
<circle cx="194.6" cy="346.9" r="3.1" fill="#519cc8"/>
<circle cx="205.0" cy="346.7" r="3.1" fill="#519cc8"/>
<circle cx="210.4" cy="346.6" r="3.1" fill="#73b1d3"/>
<circle cx="215.4" cy="346.4" r="3.1" fill="#73b1d3"/>
<circle cx="220.2" cy="346.3" r="3.1" fill="#73b1d3"/>
<circle cx="224.9" cy="346.5" r="3.1" fill="#b0d4e7"/>
<circle cx="152.4" cy="350.8" r="3.1" fill="#cce2ee"/>
<circle cx="157.8" cy="350.4" r="3.1" fill="#deebf2"/>
<circle cx="162.5" cy="350.7" r="3.1" fill="#eff3f5"/>
<circle cx="167.1" cy="350.7" r="3.1" fill="#deebf2"/>
<circle cx="172.5" cy="350.6" r="3.1" fill="#b0d4e7"/>
<circle cx="177.5" cy="350.3" r="3.1" fill="#95c6df"/>
<circle cx="183.0" cy="350.3" r="3.1" fill="#73b1d3"/>
<circle cx="188.0" cy="350.7" r="3.1" fill="#73b1d3"/>
<circle cx="192.4" cy="350.6" r="3.1" fill="#519cc8"/>
<circle cx="197.6" cy="350.6" r="3.1" fill="#519cc8"/>
<circle cx="217.5" cy="351.1" r="3.1" fill="#73b1d3"/>
<circle cx="222.1" cy="350.6" r="3.1" fill="#95c6df"/>
<circle cx="227.8" cy="350.8" r="3.1" fill="#b0d4e7"/>
<circle cx="149.9" cy="354.9" r="3.1" fill="#cce2ee"/>
<circle cx="154.6" cy="355.6" r="3.1" fill="#cce2ee"/>
<circle cx="159.8" cy="355.0" r="3.1" fill="#deebf2"/>
<circle cx="165.3" cy="355.3" r="3.1" fill="#deebf2"/>
<circle cx="170.3" cy="354.7" r="3.1" fill="#b0d4e7"/>
<circle cx="175.1" cy="355.6" r="3.1" fill="#95c6df"/>
<circle cx="179.5" cy="355.6" r="3.1" fill="#95c6df"/>
<circle cx="185.1" cy="354.7" r="3.1" fill="#b0d4e7"/>
<circle cx="189.9" cy="355.3" r="3.1" fill="#95c6df"/>
<circle cx="195.4" cy="354.7" r="3.1" fill="#73b1d3"/>
<circle cx="199.9" cy="355.4" r="3.1" fill="#519cc8"/>
<circle cx="204.9" cy="355.1" r="3.1" fill="#519cc8"/>
<circle cx="219.8" cy="355.4" r="3.1" fill="#95c6df"/>
<circle cx="224.6" cy="355.5" r="3.1" fill="#95c6df"/>
<circle cx="147.5" cy="359.1" r="3.1" fill="#cce2ee"/>
<circle cx="152.3" cy="359.9" r="3.1" fill="#b0d4e7"/>
<circle cx="157.9" cy="359.2" r="3.1" fill="#cce2ee"/>
<circle cx="162.5" cy="359.8" r="3.1" fill="#cce2ee"/>
<circle cx="167.9" cy="359.5" r="3.1" fill="#b0d4e7"/>
<circle cx="172.4" cy="359.4" r="3.1" fill="#95c6df"/>
<circle cx="177.9" cy="359.5" r="3.1" fill="#95c6df"/>
<circle cx="182.4" cy="359.8" r="3.1" fill="#95c6df"/>
<circle cx="187.7" cy="359.2" r="3.1" fill="#95c6df"/>
<circle cx="192.2" cy="359.3" r="3.1" fill="#95c6df"/>
<circle cx="197.3" cy="359.6" r="3.1" fill="#519cc8"/>
<circle cx="202.4" cy="359.6" r="3.1" fill="#519cc8"/>
<circle cx="207.4" cy="359.6" r="3.1" fill="#95c6df"/>
<circle cx="218.0" cy="359.3" r="3.1" fill="#b0d4e7"/>
<circle cx="222.2" cy="359.3" r="3.1" fill="#cce2ee"/>
<circle cx="150.1" cy="363.6" r="3.1" fill="#cce2ee"/>
<circle cx="155.3" cy="363.7" r="3.1" fill="#cce2ee"/>
<circle cx="159.9" cy="363.9" r="3.1" fill="#cce2ee"/>
<circle cx="165.5" cy="364.2" r="3.1" fill="#b0d4e7"/>
<circle cx="170.0" cy="363.6" r="3.1" fill="#95c6df"/>
<circle cx="174.6" cy="363.6" r="3.1" fill="#95c6df"/>
<circle cx="179.5" cy="364.0" r="3.1" fill="#95c6df"/>
<circle cx="185.1" cy="363.7" r="3.1" fill="#95c6df"/>
<circle cx="200.5" cy="364.1" r="3.1" fill="#73b1d3"/>
<circle cx="204.6" cy="364.1" r="3.1" fill="#95c6df"/>
<circle cx="209.7" cy="363.9" r="3.1" fill="#73b1d3"/>
<circle cx="214.6" cy="364.1" r="3.1" fill="#b0d4e7"/>
<circle cx="220.4" cy="364.2" r="3.1" fill="#b0d4e7"/>
<circle cx="224.9" cy="364.3" r="3.1" fill="#cce2ee"/>
<circle cx="147.3" cy="368.5" r="3.1" fill="#b0d4e7"/>
<circle cx="152.3" cy="367.9" r="3.1" fill="#cce2ee"/>
<circle cx="157.5" cy="367.9" r="3.1" fill="#b0d4e7"/>
<circle cx="162.3" cy="367.8" r="3.1" fill="#95c6df"/>
<circle cx="167.3" cy="367.9" r="3.1" fill="#95c6df"/>
<circle cx="172.5" cy="368.5" r="3.1" fill="#73b1d3"/>
<circle cx="177.9" cy="368.5" r="3.1" fill="#73b1d3"/>
<circle cx="182.5" cy="368.4" r="3.1" fill="#95c6df"/>
<circle cx="187.7" cy="368.6" r="3.1" fill="#95c6df"/>
<circle cx="202.3" cy="367.7" r="3.1" fill="#cce2ee"/>
<circle cx="207.4" cy="368.4" r="3.1" fill="#b0d4e7"/>
<circle cx="212.5" cy="368.0" r="3.1" fill="#95c6df"/>
<circle cx="217.9" cy="368.2" r="3.1" fill="#b0d4e7"/>
<circle cx="222.3" cy="367.9" r="3.1" fill="#b0d4e7"/>
<circle cx="144.6" cy="372.9" r="3.1" fill="#95c6df"/>
<circle cx="149.6" cy="372.9" r="3.1" fill="#95c6df"/>
<circle cx="155.1" cy="372.1" r="3.1" fill="#73b1d3"/>
<circle cx="159.8" cy="372.9" r="3.1" fill="#b0d4e7"/>
<circle cx="165.2" cy="372.0" r="3.1" fill="#73b1d3"/>
<circle cx="170.1" cy="373.0" r="3.1" fill="#73b1d3"/>
<circle cx="175.4" cy="372.8" r="3.1" fill="#95c6df"/>
<circle cx="179.6" cy="372.5" r="3.1" fill="#95c6df"/>
<circle cx="185.0" cy="372.3" r="3.1" fill="#95c6df"/>
<circle cx="189.7" cy="372.7" r="3.1" fill="#b0d4e7"/>
<circle cx="195.0" cy="372.1" r="3.1" fill="#b0d4e7"/>
<circle cx="200.1" cy="373.0" r="3.1" fill="#cce2ee"/>
<circle cx="204.6" cy="372.3" r="3.1" fill="#cce2ee"/>
<circle cx="210.2" cy="372.9" r="3.1" fill="#cce2ee"/>
<circle cx="215.4" cy="372.9" r="3.1" fill="#b0d4e7"/>
<circle cx="220.4" cy="372.0" r="3.1" fill="#b0d4e7"/>
<circle cx="142.6" cy="377.0" r="3.1" fill="#95c6df"/>
<circle cx="147.6" cy="377.2" r="3.1" fill="#95c6df"/>
<circle cx="152.5" cy="377.3" r="3.1" fill="#73b1d3"/>
<circle cx="157.1" cy="377.2" r="3.1" fill="#73b1d3"/>
<circle cx="162.0" cy="376.3" r="3.1" fill="#95c6df"/>
<circle cx="167.7" cy="376.8" r="3.1" fill="#73b1d3"/>
<circle cx="172.8" cy="377.1" r="3.1" fill="#73b1d3"/>
<circle cx="177.1" cy="377.1" r="3.1" fill="#519cc8"/>
<circle cx="182.8" cy="376.7" r="3.1" fill="#b0d4e7"/>
<circle cx="187.3" cy="376.3" r="3.1" fill="#b0d4e7"/>
<circle cx="192.3" cy="376.9" r="3.1" fill="#cce2ee"/>
<circle cx="197.3" cy="377.0" r="3.1" fill="#cce2ee"/>
<circle cx="202.2" cy="377.2" r="3.1" fill="#cce2ee"/>
<circle cx="207.1" cy="376.6" r="3.1" fill="#cce2ee"/>
<circle cx="212.8" cy="376.6" r="3.1" fill="#cce2ee"/>
<circle cx="217.7" cy="376.6" r="3.1" fill="#73b1d3"/>
<circle cx="144.8" cy="381.5" r="3.1" fill="#b0d4e7"/>
<circle cx="149.7" cy="380.9" r="3.1" fill="#95c6df"/>
<circle cx="155.2" cy="381.3" r="3.1" fill="#73b1d3"/>
<circle cx="160.0" cy="380.7" r="3.1" fill="#95c6df"/>
<circle cx="164.7" cy="380.9" r="3.1" fill="#73b1d3"/>
<circle cx="170.5" cy="381.0" r="3.1" fill="#519cc8"/>
<circle cx="175.4" cy="381.6" r="3.1" fill="#519cc8"/>
<circle cx="179.6" cy="381.4" r="3.1" fill="#95c6df"/>
<circle cx="184.8" cy="381.4" r="3.1" fill="#b0d4e7"/>
<circle cx="189.8" cy="381.2" r="3.1" fill="#b0d4e7"/>
<circle cx="195.0" cy="381.5" r="3.1" fill="#cce2ee"/>
<circle cx="200.0" cy="381.0" r="3.1" fill="#b0d4e7"/>
<circle cx="205.4" cy="380.8" r="3.1" fill="#b0d4e7"/>
<circle cx="210.4" cy="381.6" r="3.1" fill="#cce2ee"/>
<circle cx="214.8" cy="381.6" r="3.1" fill="#b0d4e7"/>
<circle cx="220.2" cy="381.6" r="3.1" fill="#73b1d3"/>
<circle cx="142.1" cy="385.6" r="3.1" fill="#95c6df"/>
<circle cx="147.7" cy="385.9" r="3.1" fill="#b0d4e7"/>
<circle cx="152.4" cy="385.1" r="3.1" fill="#73b1d3"/>
<circle cx="157.9" cy="385.0" r="3.1" fill="#73b1d3"/>
<circle cx="162.3" cy="385.0" r="3.1" fill="#519cc8"/>
<circle cx="167.2" cy="385.1" r="3.1" fill="#519cc8"/>
<circle cx="172.5" cy="385.5" r="3.1" fill="#73b1d3"/>
<circle cx="177.5" cy="385.9" r="3.1" fill="#95c6df"/>
<circle cx="182.2" cy="385.0" r="3.1" fill="#95c6df"/>
<circle cx="187.8" cy="385.9" r="3.1" fill="#95c6df"/>
<circle cx="192.2" cy="385.3" r="3.1" fill="#b0d4e7"/>
<circle cx="197.3" cy="385.8" r="3.1" fill="#b0d4e7"/>
<circle cx="202.5" cy="385.6" r="3.1" fill="#cce2ee"/>
<circle cx="207.5" cy="385.2" r="3.1" fill="#deebf2"/>
<circle cx="213.0" cy="385.0" r="3.1" fill="#cce2ee"/>
<circle cx="217.4" cy="385.0" r="3.1" fill="#95c6df"/>
<circle cx="144.7" cy="390.0" r="3.1" fill="#73b1d3"/>
<circle cx="149.5" cy="389.5" r="3.1" fill="#73b1d3"/>
<circle cx="155.0" cy="390.0" r="3.1" fill="#95c6df"/>
<circle cx="159.7" cy="389.3" r="3.1" fill="#519cc8"/>
<circle cx="164.5" cy="389.6" r="3.1" fill="#519cc8"/>
<circle cx="169.9" cy="389.8" r="3.1" fill="#73b1d3"/>
<circle cx="174.8" cy="389.7" r="3.1" fill="#b0d4e7"/>
<circle cx="180.1" cy="389.7" r="3.1" fill="#b0d4e7"/>
<circle cx="185.0" cy="389.6" r="3.1" fill="#95c6df"/>
<circle cx="189.7" cy="390.2" r="3.1" fill="#b0d4e7"/>
<circle cx="195.4" cy="389.5" r="3.1" fill="#cce2ee"/>
<circle cx="200.5" cy="389.6" r="3.1" fill="#b0d4e7"/>
<circle cx="215.2" cy="389.5" r="3.1" fill="#95c6df"/>
<circle cx="142.2" cy="394.6" r="3.1" fill="#b0d4e7"/>
<circle cx="147.1" cy="394.3" r="3.1" fill="#95c6df"/>
<circle cx="152.6" cy="394.1" r="3.1" fill="#95c6df"/>
<circle cx="157.5" cy="394.0" r="3.1" fill="#95c6df"/>
<circle cx="162.5" cy="393.9" r="3.1" fill="#519cc8"/>
<circle cx="167.6" cy="394.1" r="3.1" fill="#73b1d3"/>
<circle cx="172.5" cy="394.1" r="3.1" fill="#73b1d3"/>
<circle cx="178.0" cy="393.9" r="3.1" fill="#95c6df"/>
<circle cx="139.6" cy="398.8" r="3.1" fill="#cce2ee"/>
<circle cx="145.3" cy="398.8" r="3.1" fill="#b0d4e7"/>
<circle cx="150.4" cy="398.5" r="3.1" fill="#b0d4e7"/>
<circle cx="155.1" cy="398.9" r="3.1" fill="#b0d4e7"/>
<circle cx="160.0" cy="398.3" r="3.1" fill="#95c6df"/>
<circle cx="165.0" cy="398.3" r="3.1" fill="#95c6df"/>
<circle cx="169.7" cy="398.8" r="3.1" fill="#73b1d3"/>
<circle cx="175.5" cy="398.9" r="3.1" fill="#95c6df"/>
<circle cx="137.8" cy="403.0" r="3.1" fill="#deebf2"/>
<circle cx="142.8" cy="402.5" r="3.1" fill="#deebf2"/>
<circle cx="147.3" cy="402.5" r="3.1" fill="#cce2ee"/>
<circle cx="152.0" cy="402.8" r="3.1" fill="#cce2ee"/>
<circle cx="157.8" cy="402.9" r="3.1" fill="#95c6df"/>
<circle cx="162.9" cy="402.9" r="3.1" fill="#95c6df"/>
<circle cx="167.7" cy="402.4" r="3.1" fill="#73b1d3"/>
<circle cx="172.9" cy="402.6" r="3.1" fill="#95c6df"/>
<circle cx="140.2" cy="407.4" r="3.1" fill="#deebf2"/>
<circle cx="145.1" cy="406.7" r="3.1" fill="#eff3f5"/>
<circle cx="149.6" cy="407.5" r="3.1" fill="#deebf2"/>
<circle cx="155.3" cy="407.5" r="3.1" fill="#cce2ee"/>
<circle cx="160.4" cy="407.3" r="3.1" fill="#95c6df"/>
<circle cx="164.9" cy="407.0" r="3.1" fill="#95c6df"/>
<circle cx="169.7" cy="407.4" r="3.1" fill="#73b1d3"/>
<circle cx="137.7" cy="411.7" r="3.1" fill="#deebf2"/>
<circle cx="142.5" cy="411.3" r="3.1" fill="#f8f1ed"/>
<circle cx="147.2" cy="411.6" r="3.1" fill="#eff3f5"/>
<circle cx="152.9" cy="411.3" r="3.1" fill="#f8f1ed"/>
<circle cx="157.9" cy="411.2" r="3.1" fill="#deebf2"/>
<circle cx="162.6" cy="411.9" r="3.1" fill="#b0d4e7"/>
<circle cx="134.8" cy="415.6" r="3.1" fill="#eff3f5"/>
<circle cx="140.0" cy="415.3" r="3.1" fill="#eff3f5"/>
<circle cx="145.0" cy="415.8" r="3.1" fill="#f8f1ed"/>
<circle cx="149.7" cy="415.5" r="3.1" fill="#f8f1ed"/>
<circle cx="154.7" cy="415.6" r="3.1" fill="#eff3f5"/>
<circle cx="159.6" cy="415.6" r="3.1" fill="#b0d4e7"/>
<circle cx="132.9" cy="420.2" r="3.1" fill="#deebf2"/>
<circle cx="137.4" cy="419.8" r="3.1" fill="#deebf2"/>
<circle cx="143.0" cy="419.7" r="3.1" fill="#deebf2"/>
<circle cx="147.7" cy="420.4" r="3.1" fill="#deebf2"/>
<circle cx="152.6" cy="420.5" r="3.1" fill="#deebf2"/>
<circle cx="134.8" cy="424.5" r="3.1" fill="#deebf2"/>
<circle cx="140.0" cy="424.1" r="3.1" fill="#eff3f5"/>
<circle cx="144.6" cy="424.1" r="3.1" fill="#deebf2"/>
<circle cx="149.8" cy="424.7" r="3.1" fill="#cce2ee"/>
<circle cx="192.3" cy="429.0" r="3.1" fill="#519cc8"/>
<circle cx="197.7" cy="428.7" r="3.1" fill="#95c6df"/>
<circle cx="202.1" cy="428.7" r="3.1" fill="#deebf2"/>
<circle cx="175.4" cy="432.7" r="3.1" fill="#b0d4e7"/>
<circle cx="179.8" cy="433.3" r="3.1" fill="#95c6df"/>
<circle cx="184.6" cy="433.0" r="3.1" fill="#95c6df"/>
<circle cx="190.2" cy="433.0" r="3.1" fill="#95c6df"/>
<circle cx="195.2" cy="433.2" r="3.1" fill="#95c6df"/>
<circle cx="200.2" cy="432.7" r="3.1" fill="#b0d4e7"/>
<circle cx="157.5" cy="436.9" r="3.1" fill="#73b1d3"/>
<circle cx="162.4" cy="437.4" r="3.1" fill="#73b1d3"/>
<circle cx="168.0" cy="437.8" r="3.1" fill="#73b1d3"/>
<circle cx="172.6" cy="437.2" r="3.1" fill="#95c6df"/>
<circle cx="177.1" cy="437.2" r="3.1" fill="#b0d4e7"/>
<circle cx="182.9" cy="437.4" r="3.1" fill="#b0d4e7"/>
<circle cx="187.4" cy="437.8" r="3.1" fill="#cce2ee"/>
<circle cx="192.8" cy="437.6" r="3.1" fill="#cce2ee"/>
<circle cx="197.4" cy="437.4" r="3.1" fill="#cce2ee"/>
<circle cx="159.8" cy="441.9" r="3.1" fill="#95c6df"/>
<circle cx="164.8" cy="442.0" r="3.1" fill="#95c6df"/>
<circle cx="170.0" cy="442.1" r="3.1" fill="#95c6df"/>
<circle cx="174.9" cy="442.2" r="3.1" fill="#b0d4e7"/>
<circle cx="180.3" cy="441.7" r="3.1" fill="#cce2ee"/>
<circle cx="185.2" cy="441.6" r="3.1" fill="#deebf2"/>
<circle cx="190.4" cy="441.9" r="3.1" fill="#deebf2"/>
<circle cx="194.9" cy="441.9" r="3.1" fill="#deebf2"/>
<circle cx="162.8" cy="446.1" r="3.1" fill="#95c6df"/>
<circle cx="167.3" cy="446.3" r="3.1" fill="#b0d4e7"/>
<circle cx="172.4" cy="446.4" r="3.1" fill="#95c6df"/>
<circle cx="177.6" cy="445.8" r="3.1" fill="#cce2ee"/>
<circle cx="183.0" cy="445.8" r="3.1" fill="#deebf2"/>
<circle cx="187.1" cy="446.2" r="3.1" fill="#deebf2"/>
<circle cx="192.8" cy="446.0" r="3.1" fill="#deebf2"/>
<circle cx="197.7" cy="446.4" r="3.1" fill="#cce2ee"/>
<circle cx="175.1" cy="450.2" r="3.1" fill="#cce2ee"/>
<circle cx="180.1" cy="450.5" r="3.1" fill="#deebf2"/>
<circle cx="184.6" cy="450.7" r="3.1" fill="#eff3f5"/>
<circle cx="190.2" cy="450.9" r="3.1" fill="#deebf2"/>
<circle cx="195.1" cy="450.4" r="3.1" fill="#cce2ee"/>
<circle cx="177.2" cy="454.9" r="3.1" fill="#deebf2"/>
<circle cx="182.7" cy="454.5" r="3.1" fill="#deebf2"/>
<circle cx="187.4" cy="454.4" r="3.1" fill="#deebf2"/>
<circle cx="132.4" cy="429.6" r="3.1" fill="#eff3f5"/>
<circle cx="132.4" cy="433.4" r="3.1" fill="#deebf2"/>
<circle cx="131.8" cy="443.6" r="3.1" fill="#73b1d3"/>
<circle cx="131.8" cy="447.4" r="3.1" fill="#73b1d3"/>
<circle cx="215.4" cy="386.6" r="3.1" fill="#b0d4e7"/>
<circle cx="219.8" cy="380.9" r="3.1" fill="#b0d4e7"/>
<circle cx="211.5" cy="382.8" r="3.1" fill="#95c6df"/>
<circle cx="216.6" cy="375.8" r="3.1" fill="#519cc8"/>
<circle cx="220.5" cy="373.2" r="3.1" fill="#cce2ee"/>
<circle cx="205.1" cy="379.0" r="3.1" fill="#deebf2"/>
<circle cx="206.4" cy="372.6" r="3.1" fill="#cce2ee"/>
<circle cx="185.5" cy="397.5" r="3.1" fill="#73b1d3"/>
<circle cx="181.7" cy="400.7" r="3.1" fill="#95c6df"/>
<circle cx="196.4" cy="398.2" r="3.1" fill="#73b1d3"/>
<circle cx="195.8" cy="402.0" r="3.1" fill="#95c6df"/>
<circle cx="202.8" cy="402.6" r="3.1" fill="#95c6df"/>
<circle cx="177.8" cy="403.3" r="3.1" fill="#95c6df"/>
<circle cx="191.3" cy="408.4" r="3.1" fill="#95c6df"/>
<circle cx="195.1" cy="409.0" r="3.1" fill="#95c6df"/>
<circle cx="190.0" cy="411.6" r="3.1" fill="#95c6df"/>
<circle cx="186.8" cy="414.8" r="3.1" fill="#95c6df"/>
<circle cx="209.2" cy="410.0" r="3.1" fill="#95c6df"/>
<circle cx="184.0" cy="432.0" r="3.1" fill="#73b1d3"/>
<circle cx="188.0" cy="431.0" r="3.1" fill="#519cc8"/>
<circle cx="192.0" cy="431.5" r="3.1" fill="#73b1d3"/>
<circle cx="196.0" cy="430.5" r="3.1" fill="#b0d4e7"/>
<circle cx="200.0" cy="428.0" r="3.1" fill="#95c6df"/>
<circle cx="204.0" cy="426.0" r="3.1" fill="#cce2ee"/>
<circle cx="201.2" cy="453.3" r="3.1" fill="#b0d4e7"/>
<circle cx="249.6" cy="261.2" r="3.1" fill="#fcd6c1"/>
<circle cx="248.0" cy="271.6" r="3.1" fill="#cce2ee"/>
<circle cx="247.2" cy="278.0" r="3.1" fill="#f8f1ed"/>
<circle cx="246.6" cy="196.1" r="3.1" fill="#fbe5d8"/>
<circle cx="262.0" cy="196.0" r="3.1" fill="#fcd6c1"/>
<circle cx="259.0" cy="186.0" r="3.1" fill="#fbe5d8"/>
<circle cx="262.5" cy="181.0" r="3.1" fill="#fbe5d8"/>
<circle cx="255.0" cy="190.0" r="3.1" fill="#fbe5d8"/>
<circle cx="250.0" cy="185.0" r="3.1" fill="#fbe5d8"/>
<circle cx="224.9" cy="180.7" r="3.1" fill="#f4a785"/>
<circle cx="257.0" cy="200.3" r="3.1" fill="#f8bfa3"/>
<circle cx="252.2" cy="206.6" r="3.1" fill="#f8bfa3"/>
<circle cx="265.5" cy="191.0" r="3.1" fill="#f4a785"/>
<circle cx="249.6" cy="173.6" r="3.1" fill="#cd4d44"/>
<circle cx="209.5" cy="172.0" r="3.1" fill="#a81529"/>
<circle cx="214.0" cy="172.5" r="3.1" fill="#a81529"/>
<circle cx="229.6" cy="174.4" r="3.1" fill="#bd2e35"/>
<circle cx="229.6" cy="177.6" r="3.1" fill="#cd4d44"/>
<circle cx="233.6" cy="175.2" r="3.1" fill="#67001f"/>
<circle cx="233.6" cy="179.2" r="3.1" fill="#67001f"/>
<circle cx="224.8" cy="180.8" r="3.1" fill="#f4a785"/>
<circle cx="232.0" cy="184.8" r="3.1" fill="#e88a6d"/>
<circle cx="204.0" cy="157.2" r="3.1" fill="#cce2ee"/>
<line x1="116.60" y1="130.60" x2="116.60" y2="476.30" stroke="#000" stroke-width="0.9" stroke-opacity="0.12"/>
<line x1="147.68" y1="130.60" x2="147.68" y2="476.30" stroke="#000" stroke-width="0.9" stroke-opacity="0.12"/>
<line x1="178.76" y1="130.60" x2="178.76" y2="476.30" stroke="#000" stroke-width="0.9" stroke-opacity="0.12"/>
<line x1="209.84" y1="130.60" x2="209.84" y2="476.30" stroke="#000" stroke-width="0.9" stroke-opacity="0.12"/>
<line x1="240.92" y1="130.60" x2="240.92" y2="476.30" stroke="#000" stroke-width="0.9" stroke-opacity="0.12"/>
<line x1="272.00" y1="130.60" x2="272.00" y2="476.30" stroke="#000" stroke-width="0.9" stroke-opacity="0.12"/>
<line x1="110.70" y1="456.20" x2="290.80" y2="456.20" stroke="#000" stroke-width="0.9" stroke-opacity="0.12"/>
<line x1="110.70" y1="403.17" x2="290.80" y2="403.17" stroke="#000" stroke-width="0.9" stroke-opacity="0.12"/>
<line x1="110.70" y1="350.15" x2="290.80" y2="350.15" stroke="#000" stroke-width="0.9" stroke-opacity="0.12"/>
<line x1="110.70" y1="297.12" x2="290.80" y2="297.12" stroke="#000" stroke-width="0.9" stroke-opacity="0.12"/>
<line x1="110.70" y1="244.10" x2="290.80" y2="244.10" stroke="#000" stroke-width="0.9" stroke-opacity="0.12"/>
<line x1="110.70" y1="191.07" x2="290.80" y2="191.07" stroke="#000" stroke-width="0.9" stroke-opacity="0.12"/>
<line x1="110.70" y1="138.05" x2="290.80" y2="138.05" stroke="#000" stroke-width="0.9" stroke-opacity="0.12"/>
<polyline points="191.6,129.0 191.0,132.2 192.8,134.0 195.8,134.6 196.4,137.6 196.4,141.2 197.0,144.8 197.6,147.8 200.0,150.2 203.0,149.6 210.2,149.4 217.4,150.2 221.0,152.0 224.0,154.4 227.0,156.8 231.8,158.0 237.8,159.0 239.8,159.1 243.3,163.3 244.0,164.7 246.8,164.0 252.4,167.5 258.0,171.0 263.6,175.2 265.7,178.7 267.1,183.6 267.1,187.1 269.2,189.2 270.6,192.0 272.7,196.2 274.8,199.7 277.6,202.5 279.7,206.0 278.3,208.1 279.0,211.6 281.8,214.4 283.9,217.2 286.0,221.4 286.7,224.2 288.8,225.6 290.9,227.0 292.0,228.0" fill="none" stroke="#000" stroke-width="1.1" stroke-linejoin="round"/>
<line x1="268.60" y1="190.20" x2="292.00" y2="189.60" stroke="#000" stroke-width="1.1" stroke-dasharray="1 1.6"/>
<path d="M203,159.6 L206.5,159.2 L209,160.4 L206.5,162 L204,161 Z" fill="none" stroke="#000" stroke-width="1.1"/>
<path d="M211.5,159.6 L214.5,158.6 L219,158.8 L218,160.4 L214,160.6 Z" fill="none" stroke="#000" stroke-width="1.1"/>
<path d="M200.5,158.8 L203,159.4" stroke="#000" stroke-width="1.5" stroke-linecap="round"/>
<path d="M218.2,174.6 L221.2,176.2" stroke="#000" stroke-width="1.8" stroke-linecap="round"/>
<path d="M239.2,170.8 L242.5,172 L245,174.6 L242,174.4 Z" fill="none" stroke="#000" stroke-width="1.3"/>
<path d="M239.4,180.6 L242,183.6 L244.2,185.2" stroke="#000" stroke-width="1.9" stroke-linecap="round"/>
<path d="M243.5,263 Q246.5,263.5 245,266 Q244.5,268 246.5,268" fill="none" stroke="#000" stroke-width="1.5"/>
<circle cx="266.8" cy="194" r="0.7" fill="#000"/>
<path d="M267,186.5 L269,189.5 L270.3,192" stroke="#000" stroke-width="2" stroke-linecap="round"/>
</g>
<rect x="110.7" y="130.6" width="180.10000000000002" height="345.70000000000005" fill="none" stroke="#444" stroke-width="1.4"/>
<text x="78.68" y="142.13" font-size="11.24" textLength="26.72" lengthAdjust="spacingAndGlyphs" fill="#000">35°N</text>
<text x="68.57" y="195.16" font-size="11.24" textLength="36.83" lengthAdjust="spacingAndGlyphs" fill="#000">32.5°N</text>
<text x="78.68" y="248.18" font-size="11.24" textLength="26.72" lengthAdjust="spacingAndGlyphs" fill="#000">30°N</text>
<text x="68.57" y="301.21" font-size="11.24" textLength="36.83" lengthAdjust="spacingAndGlyphs" fill="#000">27.5°N</text>
<text x="78.68" y="354.23" font-size="11.24" textLength="26.72" lengthAdjust="spacingAndGlyphs" fill="#000">25°N</text>
<text x="68.57" y="407.26" font-size="11.24" textLength="36.83" lengthAdjust="spacingAndGlyphs" fill="#000">22.5°N</text>
<text x="78.68" y="460.28" font-size="11.24" textLength="26.72" lengthAdjust="spacingAndGlyphs" fill="#000">20°N</text>
<text x="93.54" y="490.40" font-size="11.24" textLength="46.13" lengthAdjust="spacingAndGlyphs" fill="#000">124.5°W</text>
<text x="155.70" y="490.40" font-size="11.24" textLength="46.13" lengthAdjust="spacingAndGlyphs" fill="#000">121.5°W</text>
<text x="217.86" y="490.40" font-size="11.24" textLength="46.13" lengthAdjust="spacingAndGlyphs" fill="#000">118.5°W</text>
</g>
</svg></body></html>
